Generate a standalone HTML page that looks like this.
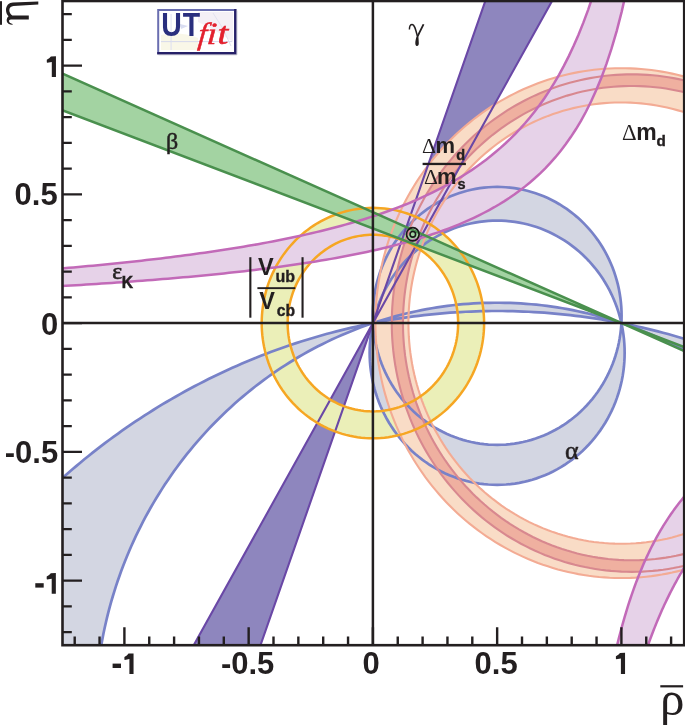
<!DOCTYPE html>
<html><head><meta charset="utf-8"><style>
html,body{margin:0;padding:0;background:#fff;}
body{width:685px;height:725px;overflow:hidden;position:relative;font-family:"Liberation Sans",sans-serif;}
svg{position:absolute;left:0;top:0;will-change:transform;}
</style></head><body>
<svg width="685" height="725" viewBox="0 0 685 725">
<rect width="685" height="725" fill="#fff"/>
<defs><clipPath id="pc"><rect x="62.50" y="1.00" width="621.70" height="644.20"/></clipPath></defs>
<g clip-path="url(#pc)">
<path d="M372.90,323.10 L498.72,-37.40 L573.42,-37.40ZM372.90,323.10 L247.08,683.60 L172.38,683.60Z" fill="#8e86be"/>
<path d="M621.59,315.89 L621.52,311.39 L621.29,306.89 L620.91,302.41 L620.38,297.94 L619.70,293.50 L618.88,289.08 L617.90,284.69 L616.77,280.35 L615.50,276.04 L614.09,271.79 L612.53,267.58 L610.84,263.44 L609.00,259.36 L607.03,255.35 L604.92,251.41 L602.69,247.56 L600.32,243.78 L597.83,240.09 L595.21,236.50 L592.48,233.00 L589.63,229.60 L586.67,226.31 L583.60,223.13 L580.42,220.06 L577.14,217.11 L573.77,214.27 L570.30,211.57 L566.74,208.98 L563.10,206.53 L559.37,204.21 L555.57,202.03 L551.70,199.99 L547.77,198.09 L543.77,196.33 L539.71,194.72 L535.61,193.25 L531.45,191.93 L527.26,190.77 L523.02,189.76 L518.76,188.90 L514.47,188.19 L510.16,187.64 L505.83,187.25 L501.49,187.02 L497.15,186.94 L492.81,187.02 L488.47,187.25 L484.14,187.64 L479.83,188.19 L475.54,188.90 L471.28,189.76 L467.04,190.77 L462.85,191.93 L458.69,193.25 L454.59,194.72 L450.53,196.33 L446.53,198.09 L442.60,199.99 L438.73,202.03 L434.93,204.21 L431.20,206.53 L427.56,208.98 L424.00,211.57 L420.53,214.27 L417.16,217.11 L413.88,220.06 L410.70,223.13 L407.63,226.31 L404.67,229.60 L401.82,233.00 L399.09,236.50 L396.47,240.09 L393.98,243.78 L391.61,247.56 L389.38,251.41 L387.27,255.35 L385.30,259.36 L383.46,263.44 L381.77,267.58 L380.21,271.79 L378.80,276.04 L377.53,280.35 L376.40,284.69 L375.42,289.08 L374.60,293.50 L373.92,297.94 L373.39,302.41 L373.01,306.89 L372.78,311.39 L372.71,315.89 L372.78,320.39 L373.01,324.89 L373.39,329.37 L373.92,333.84 L374.60,338.28 L375.42,342.70 L376.40,347.09 L377.53,351.43 L378.80,355.74 L380.21,359.99 L381.77,364.20 L383.46,368.34 L385.30,372.42 L387.27,376.43 L389.38,380.37 L391.61,384.22 L393.98,388.00 L396.47,391.69 L399.09,395.28 L401.82,398.78 L404.67,402.18 L407.63,405.47 L410.70,408.65 L413.88,411.72 L417.16,414.67 L420.53,417.51 L424.00,420.21 L427.56,422.80 L431.20,425.25 L434.93,427.57 L438.73,429.75 L442.60,431.79 L446.53,433.69 L450.53,435.45 L454.59,437.06 L458.69,438.53 L462.85,439.85 L467.04,441.01 L471.28,442.02 L475.54,442.88 L479.83,443.59 L484.14,444.14 L488.47,444.53 L492.81,444.76 L497.15,444.84 L501.49,444.76 L505.83,444.53 L510.16,444.14 L514.47,443.59 L518.76,442.88 L523.02,442.02 L527.26,441.01 L531.45,439.85 L535.61,438.53 L539.71,437.06 L543.77,435.45 L547.77,433.69 L551.70,431.79 L555.57,429.75 L559.37,427.57 L563.10,425.25 L566.74,422.80 L570.30,420.21 L573.77,417.51 L577.14,414.67 L580.42,411.72 L583.60,408.65 L586.67,405.47 L589.63,402.18 L592.48,398.78 L595.21,395.28 L597.83,391.69 L600.32,388.00 L602.69,384.22 L604.92,380.37 L607.03,376.43 L609.00,372.42 L610.84,368.34 L612.53,364.20 L614.09,359.99 L615.50,355.74 L616.77,351.43 L617.90,347.09 L618.88,342.70 L619.70,338.28 L620.38,333.84 L620.91,329.37 L621.29,324.89 L621.52,320.39ZM624.64,352.71 L624.57,348.10 L624.33,343.50 L623.95,338.90 L623.40,334.33 L622.71,329.77 L621.86,325.24 L620.86,320.75 L619.71,316.30 L618.40,311.89 L616.96,307.53 L615.36,303.22 L613.62,298.98 L611.74,294.80 L609.72,290.69 L607.56,286.66 L605.27,282.70 L602.85,278.84 L600.29,275.06 L597.62,271.38 L594.82,267.79 L591.90,264.31 L588.86,260.94 L585.71,257.68 L582.46,254.53 L579.10,251.51 L575.64,248.61 L572.09,245.83 L568.44,243.19 L564.71,240.68 L560.90,238.30 L557.00,236.06 L553.04,233.97 L549.01,232.02 L544.91,230.22 L540.76,228.57 L536.55,227.07 L532.29,225.72 L527.99,224.53 L523.66,223.49 L519.29,222.61 L514.89,221.89 L510.48,221.32 L506.04,220.92 L501.60,220.68 L497.15,220.60 L492.70,220.68 L488.26,220.92 L483.82,221.32 L479.41,221.89 L475.01,222.61 L470.64,223.49 L466.31,224.53 L462.01,225.72 L457.75,227.07 L453.54,228.57 L449.39,230.22 L445.29,232.02 L441.26,233.97 L437.30,236.06 L433.40,238.30 L429.59,240.68 L425.86,243.19 L422.21,245.83 L418.66,248.61 L415.20,251.51 L411.84,254.53 L408.59,257.68 L405.44,260.94 L402.40,264.31 L399.48,267.79 L396.68,271.38 L394.01,275.06 L391.45,278.84 L389.03,282.70 L386.74,286.66 L384.58,290.69 L382.56,294.80 L380.68,298.98 L378.94,303.22 L377.34,307.53 L375.90,311.89 L374.59,316.30 L373.44,320.75 L372.44,325.24 L371.59,329.77 L370.90,334.33 L370.35,338.90 L369.97,343.50 L369.73,348.10 L369.66,352.71 L369.73,357.32 L369.97,361.93 L370.35,366.52 L370.90,371.10 L371.59,375.65 L372.44,380.18 L373.44,384.67 L374.59,389.13 L375.90,393.54 L377.34,397.90 L378.94,402.20 L380.68,406.45 L382.56,410.63 L384.58,414.74 L386.74,418.77 L389.03,422.72 L391.45,426.59 L394.01,430.37 L396.68,434.05 L399.48,437.63 L402.40,441.11 L405.44,444.48 L408.59,447.75 L411.84,450.89 L415.20,453.92 L418.66,456.82 L422.21,459.59 L425.86,462.24 L429.59,464.75 L433.40,467.12 L437.30,469.36 L441.26,471.45 L445.29,473.40 L449.39,475.20 L453.54,476.86 L457.75,478.36 L462.01,479.71 L466.31,480.90 L470.64,481.94 L475.01,482.82 L479.41,483.54 L483.82,484.10 L488.26,484.50 L492.70,484.74 L497.15,484.82 L501.60,484.74 L506.04,484.50 L510.48,484.10 L514.89,483.54 L519.29,482.82 L523.66,481.94 L527.99,480.90 L532.29,479.71 L536.55,478.36 L540.76,476.86 L544.91,475.20 L549.01,473.40 L553.04,471.45 L557.00,469.36 L560.90,467.12 L564.71,464.75 L568.44,462.24 L572.09,459.59 L575.64,456.82 L579.10,453.92 L582.46,450.89 L585.71,447.75 L588.86,444.48 L591.90,441.11 L594.82,437.63 L597.62,434.05 L600.29,430.37 L602.85,426.59 L605.27,422.72 L607.56,418.77 L609.72,414.74 L611.74,410.63 L613.62,406.45 L615.36,402.20 L616.96,397.90 L618.40,393.54 L619.71,389.13 L620.86,384.67 L621.86,380.18 L622.71,375.65 L623.40,371.10 L623.95,366.52 L624.33,361.93 L624.57,357.32ZM899.51,719.65 L899.47,714.22 L899.37,708.78 L899.20,703.35 L898.96,697.92 L898.65,692.49 L898.28,687.07 L897.83,681.66 L897.32,676.25 L896.74,670.85 L896.09,665.45 L895.38,660.07 L894.59,654.70 L893.74,649.33 L892.82,643.98 L891.84,638.64 L890.79,633.32 L889.67,628.01 L888.48,622.72 L887.23,617.44 L885.91,612.18 L884.52,606.94 L883.07,601.71 L881.56,596.51 L879.97,591.33 L878.33,586.17 L876.62,581.03 L874.84,575.92 L873.00,570.83 L871.10,565.76 L869.13,560.73 L867.10,555.72 L865.00,550.73 L862.85,545.78 L860.63,540.85 L858.35,535.96 L856.01,531.10 L853.61,526.26 L851.14,521.47 L848.62,516.70 L846.04,511.97 L843.39,507.28 L840.69,502.62 L837.93,498.00 L835.12,493.41 L832.24,488.87 L829.31,484.36 L826.32,479.89 L823.28,475.47 L820.18,471.08 L817.02,466.74 L813.82,462.44 L810.55,458.19 L807.24,453.97 L803.87,449.81 L800.45,445.69 L796.98,441.61 L793.45,437.59 L789.88,433.61 L786.26,429.68 L782.58,425.80 L778.86,421.97 L775.09,418.19 L771.28,414.46 L767.42,410.78 L763.51,407.16 L759.55,403.59 L755.56,400.07 L751.51,396.61 L747.43,393.20 L743.30,389.85 L739.13,386.55 L734.92,383.31 L730.67,380.13 L726.38,377.00 L722.05,373.93 L717.68,370.93 L713.27,367.98 L708.83,365.09 L704.35,362.26 L699.84,359.49 L695.29,356.78 L690.71,354.14 L686.10,351.55 L681.45,349.03 L676.77,346.57 L672.06,344.18 L667.32,341.85 L662.56,339.58 L657.76,337.38 L652.94,335.24 L648.09,333.17 L643.22,331.17 L638.32,329.23 L633.39,327.35 L628.45,325.55 L623.48,323.81 L618.49,322.13 L613.48,320.53 L608.45,318.99 L603.40,317.52 L598.33,316.12 L593.24,314.79 L588.14,313.52 L583.03,312.33 L577.89,311.20 L572.75,310.15 L567.59,309.16 L562.42,308.25 L557.24,307.40 L552.05,306.62 L546.85,305.92 L541.64,305.28 L536.42,304.71 L531.20,304.22 L525.97,303.79 L520.74,303.44 L515.50,303.16 L510.26,302.94 L505.02,302.80 L499.77,302.73 L494.53,302.73 L489.28,302.80 L484.04,302.94 L478.80,303.16 L473.56,303.44 L468.33,303.79 L463.10,304.22 L457.88,304.71 L452.66,305.28 L447.45,305.92 L442.25,306.62 L437.06,307.40 L431.88,308.25 L426.71,309.16 L421.55,310.15 L416.41,311.20 L411.27,312.33 L406.16,313.52 L401.06,314.79 L395.97,316.12 L390.90,317.52 L385.85,318.99 L380.82,320.53 L375.81,322.13 L370.82,323.81 L365.85,325.55 L360.91,327.35 L355.98,329.23 L351.08,331.17 L346.21,333.17 L341.36,335.24 L336.54,337.38 L331.74,339.58 L326.98,341.85 L322.24,344.18 L317.53,346.57 L312.85,349.03 L308.20,351.55 L303.59,354.14 L299.01,356.78 L294.46,359.49 L289.95,362.26 L285.47,365.09 L281.03,367.98 L276.62,370.93 L272.25,373.93 L267.92,377.00 L263.63,380.13 L259.38,383.31 L255.17,386.55 L251.00,389.85 L246.87,393.20 L242.79,396.61 L238.74,400.07 L234.75,403.59 L230.79,407.16 L226.88,410.78 L223.02,414.46 L219.21,418.19 L215.44,421.97 L211.72,425.80 L208.04,429.68 L204.42,433.61 L200.85,437.59 L197.32,441.61 L193.85,445.69 L190.43,449.81 L187.06,453.97 L183.75,458.19 L180.48,462.44 L177.28,466.74 L174.12,471.08 L171.02,475.47 L167.98,479.89 L164.99,484.36 L162.06,488.87 L159.18,493.41 L156.37,498.00 L153.61,502.62 L150.91,507.28 L148.26,511.97 L145.68,516.70 L143.16,521.47 L140.69,526.26 L138.29,531.10 L135.95,535.96 L133.67,540.85 L131.45,545.78 L129.30,550.73 L127.20,555.72 L125.17,560.73 L123.20,565.76 L121.30,570.83 L119.46,575.92 L117.68,581.03 L115.97,586.17 L114.33,591.33 L112.74,596.51 L111.23,601.71 L109.78,606.94 L108.39,612.18 L107.07,617.44 L105.82,622.72 L104.63,628.01 L103.51,633.32 L102.46,638.64 L101.48,643.98 L100.56,649.33 L99.71,654.70 L98.92,660.07 L98.21,665.45 L97.56,670.85 L96.98,676.25 L96.47,681.66 L96.02,687.07 L95.65,692.49 L95.34,697.92 L95.10,703.35 L94.93,708.78 L94.83,714.22 L94.79,719.65 L94.83,725.08 L94.93,730.52 L95.10,735.95 L95.34,741.38 L95.65,746.81 L96.02,752.23 L96.47,757.64 L96.98,763.05 L97.56,768.45 L98.21,773.85 L98.92,779.23 L99.71,784.60 L100.56,789.97 L101.48,795.32 L102.46,800.66 L103.51,805.98 L104.63,811.29 L105.82,816.58 L107.07,821.86 L108.39,827.12 L109.78,832.36 L111.23,837.59 L112.74,842.79 L114.33,847.97 L115.97,853.13 L117.68,858.27 L119.46,863.38 L121.30,868.47 L123.20,873.54 L125.17,878.57 L127.20,883.58 L129.30,888.57 L131.45,893.52 L133.67,898.45 L135.95,903.34 L138.29,908.20 L140.69,913.04 L143.16,917.83 L145.68,922.60 L148.26,927.33 L150.91,932.02 L153.61,936.68 L156.37,941.30 L159.18,945.89 L162.06,950.43 L164.99,954.94 L167.98,959.41 L171.02,963.83 L174.12,968.22 L177.28,972.56 L180.48,976.86 L183.75,981.11 L187.06,985.33 L190.43,989.49 L193.85,993.61 L197.32,997.69 L200.85,1001.71 L204.42,1005.69 L208.04,1009.62 L211.72,1013.50 L215.44,1017.33 L219.21,1021.11 L223.02,1024.84 L226.88,1028.52 L230.79,1032.14 L234.75,1035.71 L238.74,1039.23 L242.79,1042.69 L246.87,1046.10 L251.00,1049.45 L255.17,1052.75 L259.38,1055.99 L263.63,1059.17 L267.92,1062.30 L272.25,1065.37 L276.62,1068.37 L281.03,1071.32 L285.47,1074.21 L289.95,1077.04 L294.46,1079.81 L299.01,1082.52 L303.59,1085.16 L308.20,1087.75 L312.85,1090.27 L317.53,1092.73 L322.24,1095.12 L326.98,1097.45 L331.74,1099.72 L336.54,1101.92 L341.36,1104.06 L346.21,1106.13 L351.08,1108.13 L355.98,1110.07 L360.91,1111.95 L365.85,1113.75 L370.82,1115.49 L375.81,1117.17 L380.82,1118.77 L385.85,1120.31 L390.90,1121.78 L395.97,1123.18 L401.06,1124.51 L406.16,1125.78 L411.27,1126.97 L416.41,1128.10 L421.55,1129.15 L426.71,1130.14 L431.88,1131.05 L437.06,1131.90 L442.25,1132.68 L447.45,1133.38 L452.66,1134.02 L457.88,1134.59 L463.10,1135.08 L468.33,1135.51 L473.56,1135.86 L478.80,1136.14 L484.04,1136.36 L489.28,1136.50 L494.53,1136.57 L499.77,1136.57 L505.02,1136.50 L510.26,1136.36 L515.50,1136.14 L520.74,1135.86 L525.97,1135.51 L531.20,1135.08 L536.42,1134.59 L541.64,1134.02 L546.85,1133.38 L552.05,1132.68 L557.24,1131.90 L562.42,1131.05 L567.59,1130.14 L572.75,1129.15 L577.89,1128.10 L583.03,1126.97 L588.14,1125.78 L593.24,1124.51 L598.33,1123.18 L603.40,1121.78 L608.45,1120.31 L613.48,1118.77 L618.49,1117.17 L623.48,1115.49 L628.45,1113.75 L633.39,1111.95 L638.32,1110.07 L643.22,1108.13 L648.09,1106.13 L652.94,1104.06 L657.76,1101.92 L662.56,1099.72 L667.32,1097.45 L672.06,1095.12 L676.77,1092.73 L681.45,1090.27 L686.10,1087.75 L690.71,1085.16 L695.29,1082.52 L699.84,1079.81 L704.35,1077.04 L708.83,1074.21 L713.27,1071.32 L717.68,1068.37 L722.05,1065.37 L726.38,1062.30 L730.67,1059.17 L734.92,1055.99 L739.13,1052.75 L743.30,1049.45 L747.43,1046.10 L751.51,1042.69 L755.56,1039.23 L759.55,1035.71 L763.51,1032.14 L767.42,1028.52 L771.28,1024.84 L775.09,1021.11 L778.86,1017.33 L782.58,1013.50 L786.26,1009.62 L789.88,1005.69 L793.45,1001.71 L796.98,997.69 L800.45,993.61 L803.87,989.49 L807.24,985.33 L810.55,981.11 L813.82,976.86 L817.02,972.56 L820.18,968.22 L823.28,963.83 L826.32,959.41 L829.31,954.94 L832.24,950.43 L835.12,945.89 L837.93,941.30 L840.69,936.68 L843.39,932.02 L846.04,927.33 L848.62,922.60 L851.14,917.83 L853.61,913.04 L856.01,908.20 L858.35,903.34 L860.63,898.45 L862.85,893.52 L865.00,888.57 L867.10,883.58 L869.13,878.57 L871.10,873.54 L873.00,868.47 L874.84,863.38 L876.62,858.27 L878.33,853.13 L879.97,847.97 L881.56,842.79 L883.07,837.59 L884.52,832.36 L885.91,827.12 L887.23,821.86 L888.48,816.58 L889.67,811.29 L890.79,805.98 L891.84,800.66 L892.82,795.32 L893.74,789.97 L894.59,784.60 L895.38,779.23 L896.09,773.85 L896.74,768.45 L897.32,763.05 L897.83,757.64 L898.28,752.23 L898.65,746.81 L898.96,741.38 L899.20,735.95 L899.37,730.52 L899.47,725.08ZM1163.88,1001.87 L1163.86,996.44 L1163.79,991.02 L1163.69,985.59 L1163.55,980.17 L1163.36,974.75 L1163.14,969.33 L1162.87,963.91 L1162.56,958.49 L1162.21,953.08 L1161.82,947.66 L1161.39,942.26 L1160.92,936.85 L1160.40,931.45 L1159.85,926.06 L1159.25,920.67 L1158.62,915.28 L1157.94,909.90 L1157.22,904.53 L1156.47,899.16 L1155.67,893.79 L1154.83,888.44 L1153.95,883.09 L1153.03,877.75 L1152.07,872.41 L1151.06,867.09 L1150.02,861.77 L1148.94,856.46 L1147.82,851.16 L1146.66,845.87 L1145.45,840.59 L1144.21,835.32 L1142.93,830.06 L1141.61,824.81 L1140.25,819.57 L1138.84,814.34 L1137.40,809.12 L1135.92,803.92 L1134.40,798.73 L1132.84,793.55 L1131.24,788.38 L1129.61,783.22 L1127.93,778.08 L1126.21,772.96 L1124.46,767.85 L1122.67,762.75 L1120.83,757.66 L1118.96,752.60 L1117.06,747.54 L1115.11,742.51 L1113.12,737.48 L1111.10,732.48 L1109.04,727.49 L1106.94,722.52 L1104.81,717.57 L1102.63,712.63 L1100.42,707.71 L1098.17,702.81 L1095.89,697.93 L1093.57,693.06 L1091.21,688.22 L1088.81,683.40 L1086.38,678.59 L1083.91,673.80 L1081.41,669.04 L1078.87,664.29 L1076.29,659.57 L1073.68,654.87 L1071.03,650.19 L1068.35,645.53 L1065.63,640.89 L1062.87,636.27 L1060.09,631.68 L1057.26,627.11 L1054.40,622.57 L1051.51,618.04 L1048.59,613.54 L1045.63,609.07 L1042.63,604.61 L1039.60,600.19 L1036.54,595.79 L1033.45,591.41 L1030.32,587.06 L1027.16,582.73 L1023.97,578.43 L1020.74,574.15 L1017.48,569.91 L1014.19,565.69 L1010.87,561.49 L1007.52,557.32 L1004.13,553.18 L1000.72,549.07 L997.27,544.99 L993.79,540.93 L990.28,536.90 L986.74,532.91 L983.17,528.93 L979.57,524.99 L975.94,521.08 L972.28,517.20 L968.60,513.35 L964.88,509.53 L961.13,505.74 L957.36,501.98 L953.56,498.25 L949.72,494.55 L945.86,490.88 L941.98,487.24 L938.06,483.64 L934.12,480.07 L930.15,476.53 L926.16,473.02 L922.14,469.54 L918.09,466.10 L914.02,462.69 L909.92,459.32 L905.79,455.97 L901.64,452.66 L897.47,449.39 L893.27,446.15 L889.04,442.94 L884.79,439.77 L880.52,436.63 L876.22,433.53 L871.91,430.46 L867.56,427.43 L863.20,424.43 L858.81,421.47 L854.40,418.55 L849.97,415.66 L845.51,412.80 L841.04,409.99 L836.54,407.21 L832.02,404.46 L827.49,401.76 L822.93,399.09 L818.35,396.45 L813.75,393.86 L809.13,391.30 L804.49,388.78 L799.84,386.30 L795.16,383.85 L790.47,381.45 L785.76,379.08 L781.03,376.75 L776.28,374.46 L771.52,372.21 L766.74,369.99 L761.94,367.82 L757.12,365.68 L752.29,363.59 L747.45,361.53 L742.59,359.51 L737.71,357.54 L732.82,355.60 L727.92,353.70 L723.00,351.84 L718.06,350.02 L713.11,348.25 L708.15,346.51 L703.18,344.81 L698.19,343.15 L693.19,341.54 L688.18,339.96 L683.16,338.43 L678.13,336.94 L673.08,335.48 L668.02,334.07 L662.96,332.70 L657.88,331.37 L652.79,330.09 L647.70,328.84 L642.59,327.64 L637.48,326.47 L632.35,325.35 L627.22,324.27 L622.08,323.23 L616.93,322.24 L611.78,321.28 L606.62,320.37 L601.45,319.50 L596.27,318.68 L591.09,317.89 L585.91,317.15 L580.71,316.44 L575.52,315.79 L570.31,315.17 L565.11,314.60 L559.89,314.06 L554.68,313.57 L549.46,313.13 L544.24,312.72 L539.01,312.36 L533.79,312.04 L528.56,311.76 L523.33,311.53 L518.09,311.34 L512.86,311.19 L507.62,311.08 L502.39,311.02 L497.15,311.00 L491.91,311.02 L486.68,311.08 L481.44,311.19 L476.21,311.34 L470.97,311.53 L465.74,311.76 L460.51,312.04 L455.29,312.36 L450.06,312.72 L444.84,313.13 L439.62,313.57 L434.41,314.06 L429.19,314.60 L423.99,315.17 L418.78,315.79 L413.59,316.44 L408.39,317.15 L403.21,317.89 L398.03,318.68 L392.85,319.50 L387.68,320.37 L382.52,321.28 L377.37,322.24 L372.22,323.23 L367.08,324.27 L361.95,325.35 L356.82,326.47 L351.71,327.64 L346.60,328.84 L341.51,330.09 L336.42,331.37 L331.34,332.70 L326.28,334.07 L321.22,335.48 L316.17,336.94 L311.14,338.43 L306.12,339.96 L301.11,341.54 L296.11,343.15 L291.12,344.81 L286.15,346.51 L281.19,348.25 L276.24,350.02 L271.30,351.84 L266.38,353.70 L261.48,355.60 L256.59,357.54 L251.71,359.51 L246.85,361.53 L242.01,363.59 L237.18,365.68 L232.36,367.82 L227.56,369.99 L222.78,372.21 L218.02,374.46 L213.27,376.75 L208.54,379.08 L203.83,381.45 L199.14,383.85 L194.46,386.30 L189.81,388.78 L185.17,391.30 L180.55,393.86 L175.95,396.45 L171.37,399.09 L166.81,401.76 L162.28,404.46 L157.76,407.21 L153.26,409.99 L148.79,412.80 L144.33,415.66 L139.90,418.55 L135.49,421.47 L131.10,424.43 L126.74,427.43 L122.39,430.46 L118.08,433.53 L113.78,436.63 L109.51,439.77 L105.26,442.94 L101.03,446.15 L96.83,449.39 L92.66,452.66 L88.51,455.97 L84.38,459.32 L80.28,462.69 L76.21,466.10 L72.16,469.54 L68.14,473.02 L64.15,476.53 L60.18,480.07 L56.24,483.64 L52.32,487.24 L48.44,490.88 L44.58,494.55 L40.74,498.25 L36.94,501.98 L33.17,505.74 L29.42,509.53 L25.70,513.35 L22.02,517.20 L18.36,521.08 L14.73,524.99 L11.13,528.93 L7.56,532.91 L4.02,536.90 L0.51,540.93 L-2.97,544.99 L-6.42,549.07 L-9.83,553.18 L-13.22,557.32 L-16.57,561.49 L-19.89,565.69 L-23.18,569.91 L-26.44,574.15 L-29.67,578.43 L-32.86,582.73 L-36.02,587.06 L-39.15,591.41 L-42.24,595.79 L-45.30,600.19 L-48.33,604.61 L-51.33,609.07 L-54.29,613.54 L-57.21,618.04 L-60.10,622.57 L-62.96,627.11 L-65.79,631.68 L-68.57,636.27 L-71.33,640.89 L-74.05,645.53 L-76.73,650.19 L-79.38,654.87 L-81.99,659.57 L-84.57,664.29 L-87.11,669.04 L-89.61,673.80 L-92.08,678.59 L-94.51,683.40 L-96.91,688.22 L-99.27,693.06 L-101.59,697.93 L-103.87,702.81 L-106.12,707.71 L-108.33,712.63 L-110.51,717.57 L-112.64,722.52 L-114.74,727.49 L-116.80,732.48 L-118.82,737.48 L-120.81,742.51 L-122.76,747.54 L-124.66,752.60 L-126.53,757.66 L-128.37,762.75 L-130.16,767.85 L-131.91,772.96 L-133.63,778.08 L-135.31,783.22 L-136.94,788.38 L-138.54,793.55 L-140.10,798.73 L-141.62,803.92 L-143.10,809.12 L-144.54,814.34 L-145.95,819.57 L-147.31,824.81 L-148.63,830.06 L-149.91,835.32 L-151.15,840.59 L-152.36,845.87 L-153.52,851.16 L-154.64,856.46 L-155.72,861.77 L-156.76,867.09 L-157.77,872.41 L-158.73,877.75 L-159.65,883.09 L-160.53,888.44 L-161.37,893.79 L-162.17,899.16 L-162.92,904.53 L-163.64,909.90 L-164.32,915.28 L-164.95,920.67 L-165.55,926.06 L-166.10,931.45 L-166.62,936.85 L-167.09,942.26 L-167.52,947.66 L-167.91,953.08 L-168.26,958.49 L-168.57,963.91 L-168.84,969.33 L-169.06,974.75 L-169.25,980.17 L-169.39,985.59 L-169.49,991.02 L-169.56,996.44 L-169.58,1001.87 L-169.56,1007.30 L-169.49,1012.72 L-169.39,1018.15 L-169.25,1023.57 L-169.06,1028.99 L-168.84,1034.41 L-168.57,1039.83 L-168.26,1045.25 L-167.91,1050.66 L-167.52,1056.08 L-167.09,1061.48 L-166.62,1066.89 L-166.10,1072.29 L-165.55,1077.68 L-164.95,1083.07 L-164.32,1088.46 L-163.64,1093.84 L-162.92,1099.21 L-162.17,1104.58 L-161.37,1109.95 L-160.53,1115.30 L-159.65,1120.65 L-158.73,1125.99 L-157.77,1131.33 L-156.76,1136.65 L-155.72,1141.97 L-154.64,1147.28 L-153.52,1152.58 L-152.36,1157.87 L-151.15,1163.15 L-149.91,1168.42 L-148.63,1173.68 L-147.31,1178.93 L-145.95,1184.17 L-144.54,1189.40 L-143.10,1194.62 L-141.62,1199.82 L-140.10,1205.01 L-138.54,1210.19 L-136.94,1215.36 L-135.31,1220.52 L-133.63,1225.66 L-131.91,1230.78 L-130.16,1235.89 L-128.37,1240.99 L-126.53,1246.08 L-124.66,1251.14 L-122.76,1256.20 L-120.81,1261.23 L-118.82,1266.26 L-116.80,1271.26 L-114.74,1276.25 L-112.64,1281.22 L-110.51,1286.17 L-108.33,1291.11 L-106.12,1296.03 L-103.87,1300.93 L-101.59,1305.81 L-99.27,1310.68 L-96.91,1315.52 L-94.51,1320.34 L-92.08,1325.15 L-89.61,1329.94 L-87.11,1334.70 L-84.57,1339.45 L-81.99,1344.17 L-79.38,1348.87 L-76.73,1353.55 L-74.05,1358.21 L-71.33,1362.85 L-68.57,1367.47 L-65.79,1372.06 L-62.96,1376.63 L-60.10,1381.17 L-57.21,1385.70 L-54.29,1390.20 L-51.33,1394.67 L-48.33,1399.13 L-45.30,1403.55 L-42.24,1407.95 L-39.15,1412.33 L-36.02,1416.68 L-32.86,1421.01 L-29.67,1425.31 L-26.44,1429.59 L-23.18,1433.83 L-19.89,1438.05 L-16.57,1442.25 L-13.22,1446.42 L-9.83,1450.56 L-6.42,1454.67 L-2.97,1458.75 L0.51,1462.81 L4.02,1466.84 L7.56,1470.83 L11.13,1474.81 L14.73,1478.75 L18.36,1482.66 L22.02,1486.54 L25.70,1490.39 L29.42,1494.21 L33.17,1498.00 L36.94,1501.76 L40.74,1505.49 L44.58,1509.19 L48.44,1512.86 L52.32,1516.50 L56.24,1520.10 L60.18,1523.67 L64.15,1527.21 L68.14,1530.72 L72.16,1534.20 L76.21,1537.64 L80.28,1541.05 L84.38,1544.42 L88.51,1547.77 L92.66,1551.08 L96.83,1554.35 L101.03,1557.59 L105.26,1560.80 L109.51,1563.97 L113.78,1567.11 L118.08,1570.21 L122.39,1573.28 L126.74,1576.31 L131.10,1579.31 L135.49,1582.27 L139.90,1585.19 L144.33,1588.08 L148.79,1590.94 L153.26,1593.75 L157.76,1596.53 L162.28,1599.28 L166.81,1601.98 L171.37,1604.65 L175.95,1607.29 L180.55,1609.88 L185.17,1612.44 L189.81,1614.96 L194.46,1617.44 L199.14,1619.89 L203.83,1622.29 L208.54,1624.66 L213.27,1626.99 L218.02,1629.28 L222.78,1631.53 L227.56,1633.75 L232.36,1635.92 L237.18,1638.06 L242.01,1640.15 L246.85,1642.21 L251.71,1644.23 L256.59,1646.20 L261.48,1648.14 L266.38,1650.04 L271.30,1651.90 L276.24,1653.72 L281.19,1655.49 L286.15,1657.23 L291.12,1658.93 L296.11,1660.59 L301.11,1662.20 L306.12,1663.78 L311.14,1665.31 L316.17,1666.80 L321.22,1668.26 L326.28,1669.67 L331.34,1671.04 L336.42,1672.37 L341.51,1673.65 L346.60,1674.90 L351.71,1676.10 L356.82,1677.27 L361.95,1678.39 L367.08,1679.47 L372.22,1680.51 L377.37,1681.50 L382.52,1682.46 L387.68,1683.37 L392.85,1684.24 L398.03,1685.06 L403.21,1685.85 L408.39,1686.59 L413.59,1687.30 L418.78,1687.95 L423.99,1688.57 L429.19,1689.14 L434.41,1689.68 L439.62,1690.17 L444.84,1690.61 L450.06,1691.02 L455.29,1691.38 L460.51,1691.70 L465.74,1691.98 L470.97,1692.21 L476.21,1692.40 L481.44,1692.55 L486.68,1692.66 L491.91,1692.72 L497.15,1692.74 L502.39,1692.72 L507.62,1692.66 L512.86,1692.55 L518.09,1692.40 L523.33,1692.21 L528.56,1691.98 L533.79,1691.70 L539.01,1691.38 L544.24,1691.02 L549.46,1690.61 L554.68,1690.17 L559.89,1689.68 L565.11,1689.14 L570.31,1688.57 L575.52,1687.95 L580.71,1687.30 L585.91,1686.59 L591.09,1685.85 L596.27,1685.06 L601.45,1684.24 L606.62,1683.37 L611.78,1682.46 L616.93,1681.50 L622.08,1680.51 L627.22,1679.47 L632.35,1678.39 L637.48,1677.27 L642.59,1676.10 L647.70,1674.90 L652.79,1673.65 L657.88,1672.37 L662.96,1671.04 L668.02,1669.67 L673.08,1668.26 L678.13,1666.80 L683.16,1665.31 L688.18,1663.78 L693.19,1662.20 L698.19,1660.59 L703.18,1658.93 L708.15,1657.23 L713.11,1655.49 L718.06,1653.72 L723.00,1651.90 L727.92,1650.04 L732.82,1648.14 L737.71,1646.20 L742.59,1644.23 L747.45,1642.21 L752.29,1640.15 L757.12,1638.06 L761.94,1635.92 L766.74,1633.75 L771.52,1631.53 L776.28,1629.28 L781.03,1626.99 L785.76,1624.66 L790.47,1622.29 L795.16,1619.89 L799.84,1617.44 L804.49,1614.96 L809.13,1612.44 L813.75,1609.88 L818.35,1607.29 L822.93,1604.65 L827.49,1601.98 L832.02,1599.28 L836.54,1596.53 L841.04,1593.75 L845.51,1590.94 L849.97,1588.08 L854.40,1585.19 L858.81,1582.27 L863.20,1579.31 L867.56,1576.31 L871.91,1573.28 L876.22,1570.21 L880.52,1567.11 L884.79,1563.97 L889.04,1560.80 L893.27,1557.59 L897.47,1554.35 L901.64,1551.08 L905.79,1547.77 L909.92,1544.42 L914.02,1541.05 L918.09,1537.64 L922.14,1534.20 L926.16,1530.72 L930.15,1527.21 L934.12,1523.67 L938.06,1520.10 L941.98,1516.50 L945.86,1512.86 L949.72,1509.19 L953.56,1505.49 L957.36,1501.76 L961.13,1498.00 L964.88,1494.21 L968.60,1490.39 L972.28,1486.54 L975.94,1482.66 L979.57,1478.75 L983.17,1474.81 L986.74,1470.83 L990.28,1466.84 L993.79,1462.81 L997.27,1458.75 L1000.72,1454.67 L1004.13,1450.56 L1007.52,1446.42 L1010.87,1442.25 L1014.19,1438.05 L1017.48,1433.83 L1020.74,1429.59 L1023.97,1425.31 L1027.16,1421.01 L1030.32,1416.68 L1033.45,1412.33 L1036.54,1407.95 L1039.60,1403.55 L1042.63,1399.13 L1045.63,1394.67 L1048.59,1390.20 L1051.51,1385.70 L1054.40,1381.17 L1057.26,1376.63 L1060.09,1372.06 L1062.87,1367.47 L1065.63,1362.85 L1068.35,1358.21 L1071.03,1353.55 L1073.68,1348.87 L1076.29,1344.17 L1078.87,1339.45 L1081.41,1334.70 L1083.91,1329.94 L1086.38,1325.15 L1088.81,1320.34 L1091.21,1315.52 L1093.57,1310.68 L1095.89,1305.81 L1098.17,1300.93 L1100.42,1296.03 L1102.63,1291.11 L1104.81,1286.17 L1106.94,1281.22 L1109.04,1276.25 L1111.10,1271.26 L1113.12,1266.26 L1115.11,1261.23 L1117.06,1256.20 L1118.96,1251.14 L1120.83,1246.08 L1122.67,1240.99 L1124.46,1235.89 L1126.21,1230.78 L1127.93,1225.66 L1129.61,1220.52 L1131.24,1215.36 L1132.84,1210.19 L1134.40,1205.01 L1135.92,1199.82 L1137.40,1194.62 L1138.84,1189.40 L1140.25,1184.17 L1141.61,1178.93 L1142.93,1173.68 L1144.21,1168.42 L1145.45,1163.15 L1146.66,1157.87 L1147.82,1152.58 L1148.94,1147.28 L1150.02,1141.97 L1151.06,1136.65 L1152.07,1131.33 L1153.03,1125.99 L1153.95,1120.65 L1154.83,1115.30 L1155.67,1109.95 L1156.47,1104.58 L1157.22,1099.21 L1157.94,1093.84 L1158.62,1088.46 L1159.25,1083.07 L1159.85,1077.68 L1160.40,1072.29 L1160.92,1066.89 L1161.39,1061.48 L1161.82,1056.08 L1162.21,1050.66 L1162.56,1045.25 L1162.87,1039.83 L1163.14,1034.41 L1163.36,1028.99 L1163.55,1023.57 L1163.69,1018.15 L1163.79,1012.72 L1163.86,1007.30Z" fill="#d3d6e2" fill-rule="evenodd"/>
<path d="M458.14,323.10 L458.08,320.02 L457.93,316.94 L457.67,313.87 L457.31,310.81 L456.84,307.76 L456.27,304.74 L455.60,301.73 L454.83,298.76 L453.96,295.81 L453.00,292.89 L451.93,290.01 L450.77,287.18 L449.51,284.38 L448.16,281.64 L446.72,278.94 L445.18,276.30 L443.56,273.71 L441.86,271.19 L440.07,268.72 L438.19,266.33 L436.24,264.00 L434.21,261.75 L432.11,259.57 L429.93,257.46 L427.69,255.44 L425.38,253.50 L423.00,251.65 L420.56,249.88 L418.07,248.20 L415.52,246.61 L412.92,245.12 L410.26,243.72 L407.57,242.41 L404.83,241.21 L402.05,240.10 L399.24,239.10 L396.39,238.20 L393.52,237.40 L390.62,236.71 L387.70,236.12 L384.76,235.64 L381.81,235.26 L378.85,234.99 L375.87,234.83 L372.90,234.78 L369.93,234.83 L366.95,234.99 L363.99,235.26 L361.04,235.64 L358.10,236.12 L355.18,236.71 L352.28,237.40 L349.41,238.20 L346.56,239.10 L343.75,240.10 L340.97,241.21 L338.23,242.41 L335.54,243.72 L332.88,245.12 L330.28,246.61 L327.73,248.20 L325.24,249.88 L322.80,251.65 L320.42,253.50 L318.11,255.44 L315.87,257.46 L313.69,259.57 L311.59,261.75 L309.56,264.00 L307.61,266.33 L305.73,268.72 L303.94,271.19 L302.24,273.71 L300.62,276.30 L299.08,278.94 L297.64,281.64 L296.29,284.38 L295.03,287.18 L293.87,290.01 L292.80,292.89 L291.84,295.81 L290.97,298.76 L290.20,301.73 L289.53,304.74 L288.96,307.76 L288.49,310.81 L288.13,313.87 L287.87,316.94 L287.72,320.02 L287.66,323.10 L287.72,326.18 L287.87,329.26 L288.13,332.33 L288.49,335.39 L288.96,338.44 L289.53,341.46 L290.20,344.47 L290.97,347.44 L291.84,350.39 L292.80,353.31 L293.87,356.19 L295.03,359.02 L296.29,361.82 L297.64,364.56 L299.08,367.26 L300.62,369.90 L302.24,372.49 L303.94,375.01 L305.73,377.48 L307.61,379.87 L309.56,382.20 L311.59,384.45 L313.69,386.63 L315.87,388.74 L318.11,390.76 L320.42,392.70 L322.80,394.55 L325.24,396.32 L327.73,398.00 L330.28,399.59 L332.88,401.08 L335.54,402.48 L338.23,403.79 L340.97,404.99 L343.75,406.10 L346.56,407.10 L349.41,408.00 L352.28,408.80 L355.18,409.49 L358.10,410.08 L361.04,410.56 L363.99,410.94 L366.95,411.21 L369.93,411.37 L372.90,411.42 L375.87,411.37 L378.85,411.21 L381.81,410.94 L384.76,410.56 L387.70,410.08 L390.62,409.49 L393.52,408.80 L396.39,408.00 L399.24,407.10 L402.05,406.10 L404.83,404.99 L407.57,403.79 L410.26,402.48 L412.92,401.08 L415.52,399.59 L418.07,398.00 L420.56,396.32 L423.00,394.55 L425.38,392.70 L427.69,390.76 L429.93,388.74 L432.11,386.63 L434.21,384.45 L436.24,382.20 L438.19,379.87 L440.07,377.48 L441.86,375.01 L443.56,372.49 L445.18,369.90 L446.72,367.26 L448.16,364.56 L449.51,361.82 L450.77,359.02 L451.93,356.19 L453.00,353.31 L453.96,350.39 L454.83,347.44 L455.60,344.47 L456.27,341.46 L456.84,338.44 L457.31,335.39 L457.67,332.33 L457.93,329.26 L458.08,326.18ZM484.10,323.10 L484.04,319.08 L483.83,315.06 L483.49,311.06 L483.02,307.06 L482.41,303.09 L481.67,299.14 L480.80,295.22 L479.80,291.34 L478.66,287.49 L477.40,283.69 L476.01,279.93 L474.49,276.23 L472.85,272.59 L471.09,269.00 L469.21,265.48 L467.21,262.04 L465.09,258.66 L462.87,255.37 L460.53,252.16 L458.09,249.03 L455.54,246.00 L452.89,243.05 L450.15,240.21 L447.31,237.47 L444.38,234.83 L441.36,232.30 L438.26,229.88 L435.08,227.57 L431.83,225.38 L428.50,223.31 L425.11,221.36 L421.65,219.53 L418.13,217.83 L414.56,216.26 L410.93,214.82 L407.26,213.51 L403.55,212.33 L399.80,211.29 L396.02,210.39 L392.21,209.62 L388.38,208.99 L384.52,208.50 L380.66,208.15 L376.78,207.94 L372.90,207.87 L369.02,207.94 L365.14,208.15 L361.28,208.50 L357.42,208.99 L353.59,209.62 L349.78,210.39 L346.00,211.29 L342.25,212.33 L338.54,213.51 L334.87,214.82 L331.24,216.26 L327.67,217.83 L324.15,219.53 L320.69,221.36 L317.30,223.31 L313.97,225.38 L310.72,227.57 L307.54,229.88 L304.44,232.30 L301.42,234.83 L298.49,237.47 L295.65,240.21 L292.91,243.05 L290.26,246.00 L287.71,249.03 L285.27,252.16 L282.93,255.37 L280.71,258.66 L278.59,262.04 L276.59,265.48 L274.71,269.00 L272.95,272.59 L271.31,276.23 L269.79,279.93 L268.40,283.69 L267.14,287.49 L266.00,291.34 L265.00,295.22 L264.13,299.14 L263.39,303.09 L262.78,307.06 L262.31,311.06 L261.97,315.06 L261.76,319.08 L261.70,323.10 L261.76,327.12 L261.97,331.14 L262.31,335.14 L262.78,339.14 L263.39,343.11 L264.13,347.06 L265.00,350.98 L266.00,354.86 L267.14,358.71 L268.40,362.51 L269.79,366.27 L271.31,369.97 L272.95,373.61 L274.71,377.20 L276.59,380.72 L278.59,384.16 L280.71,387.54 L282.93,390.83 L285.27,394.04 L287.71,397.17 L290.26,400.20 L292.91,403.15 L295.65,405.99 L298.49,408.73 L301.42,411.37 L304.44,413.90 L307.54,416.32 L310.72,418.63 L313.97,420.82 L317.30,422.89 L320.69,424.84 L324.15,426.67 L327.67,428.37 L331.24,429.94 L334.87,431.38 L338.54,432.69 L342.25,433.87 L346.00,434.91 L349.78,435.81 L353.59,436.58 L357.42,437.21 L361.28,437.70 L365.14,438.05 L369.02,438.26 L372.90,438.33 L376.78,438.26 L380.66,438.05 L384.52,437.70 L388.38,437.21 L392.21,436.58 L396.02,435.81 L399.80,434.91 L403.55,433.87 L407.26,432.69 L410.93,431.38 L414.56,429.94 L418.13,428.37 L421.65,426.67 L425.11,424.84 L428.50,422.89 L431.83,420.82 L435.08,418.63 L438.26,416.32 L441.36,413.90 L444.38,411.37 L447.31,408.73 L450.15,405.99 L452.89,403.15 L455.54,400.20 L458.09,397.17 L460.53,394.04 L462.87,390.83 L465.09,387.54 L467.21,384.16 L469.21,380.72 L471.09,377.20 L472.85,373.61 L474.49,369.97 L476.01,366.27 L477.40,362.51 L478.66,358.71 L479.80,354.86 L480.80,350.98 L481.67,347.06 L482.41,343.11 L483.02,339.14 L483.49,335.14 L483.83,331.14 L484.04,327.12Z" fill="#ebefb8" fill-rule="evenodd"/>
<path d="M834.36,323.10 L834.30,317.66 L834.11,312.23 L833.78,306.80 L833.33,301.39 L832.75,295.98 L832.04,290.59 L831.20,285.23 L830.24,279.88 L829.15,274.56 L827.93,269.27 L826.59,264.02 L825.12,258.80 L823.53,253.62 L821.82,248.48 L819.98,243.38 L818.03,238.34 L815.95,233.34 L813.76,228.40 L811.45,223.52 L809.02,218.70 L806.49,213.94 L803.83,209.25 L801.07,204.63 L798.20,200.07 L795.22,195.60 L792.14,191.20 L788.95,186.88 L785.66,182.64 L782.27,178.49 L778.78,174.43 L775.20,170.46 L771.52,166.58 L767.76,162.79 L763.90,159.10 L759.96,155.52 L755.93,152.03 L751.82,148.65 L747.64,145.37 L743.37,142.20 L739.03,139.14 L734.62,136.20 L730.15,133.36 L725.60,130.64 L720.99,128.04 L716.33,125.56 L711.60,123.19 L706.82,120.95 L701.99,118.83 L697.11,116.84 L692.18,114.97 L687.21,113.22 L682.20,111.61 L677.15,110.12 L672.07,108.76 L666.96,107.53 L661.82,106.43 L656.66,105.47 L651.47,104.63 L646.27,103.93 L641.05,103.36 L635.82,102.93 L630.58,102.63 L625.34,102.46 L620.09,102.43 L614.84,102.53 L609.60,102.76 L604.36,103.13 L599.14,103.63 L593.93,104.27 L588.73,105.03 L583.56,105.93 L578.41,106.97 L573.28,108.13 L568.18,109.42 L563.12,110.85 L558.09,112.40 L553.10,114.08 L548.15,115.89 L543.25,117.82 L538.39,119.88 L533.58,122.06 L528.83,124.36 L524.13,126.78 L519.49,129.33 L514.92,131.99 L510.41,134.76 L505.96,137.65 L501.59,140.66 L497.29,143.77 L493.06,147.00 L488.91,150.33 L484.84,153.76 L480.86,157.30 L476.96,160.94 L473.15,164.67 L469.43,168.51 L465.80,172.43 L462.26,176.45 L458.82,180.56 L455.48,184.75 L452.24,189.03 L449.11,193.39 L446.08,197.83 L443.15,202.34 L440.33,206.93 L437.63,211.59 L435.03,216.31 L432.55,221.10 L430.18,225.95 L427.93,230.87 L425.79,235.83 L423.78,240.85 L421.88,245.92 L420.11,251.04 L418.46,256.20 L416.93,261.40 L415.52,266.64 L414.24,271.91 L413.09,277.22 L412.06,282.55 L411.16,287.91 L410.39,293.29 L409.74,298.68 L409.23,304.09 L408.84,309.51 L408.58,314.95 L408.45,320.38 L408.45,325.82 L408.58,331.25 L408.84,336.69 L409.23,342.11 L409.74,347.52 L410.39,352.91 L411.16,358.29 L412.06,363.65 L413.09,368.98 L414.24,374.29 L415.52,379.56 L416.93,384.80 L418.46,390.00 L420.11,395.16 L421.88,400.28 L423.78,405.35 L425.79,410.37 L427.93,415.33 L430.18,420.25 L432.55,425.10 L435.03,429.89 L437.63,434.61 L440.33,439.27 L443.15,443.86 L446.08,448.37 L449.11,452.81 L452.24,457.17 L455.48,461.45 L458.82,465.64 L462.26,469.75 L465.80,473.77 L469.43,477.69 L473.15,481.53 L476.96,485.26 L480.86,488.90 L484.84,492.44 L488.91,495.87 L493.06,499.20 L497.29,502.43 L501.59,505.54 L505.96,508.55 L510.41,511.44 L514.92,514.21 L519.49,516.87 L524.13,519.42 L528.83,521.84 L533.58,524.14 L538.39,526.32 L543.25,528.38 L548.15,530.31 L553.10,532.12 L558.09,533.80 L563.12,535.35 L568.18,536.78 L573.28,538.07 L578.41,539.23 L583.56,540.27 L588.73,541.17 L593.93,541.93 L599.14,542.57 L604.36,543.07 L609.60,543.44 L614.84,543.67 L620.09,543.77 L625.34,543.74 L630.58,543.57 L635.82,543.27 L641.05,542.84 L646.27,542.27 L651.47,541.57 L656.66,540.73 L661.82,539.77 L666.96,538.67 L672.07,537.44 L677.15,536.08 L682.20,534.59 L687.21,532.98 L692.18,531.23 L697.11,529.36 L701.99,527.37 L706.82,525.25 L711.60,523.01 L716.33,520.64 L720.99,518.16 L725.60,515.56 L730.15,512.84 L734.62,510.00 L739.03,507.06 L743.37,504.00 L747.64,500.83 L751.82,497.55 L755.93,494.17 L759.96,490.68 L763.90,487.10 L767.76,483.41 L771.52,479.62 L775.20,475.74 L778.78,471.77 L782.27,467.71 L785.66,463.56 L788.95,459.32 L792.14,455.00 L795.22,450.60 L798.20,446.13 L801.07,441.57 L803.83,436.95 L806.49,432.26 L809.02,427.50 L811.45,422.68 L813.76,417.80 L815.95,412.86 L818.03,407.86 L819.98,402.82 L821.82,397.72 L823.53,392.58 L825.12,387.40 L826.59,382.18 L827.93,376.93 L829.15,371.64 L830.24,366.32 L831.20,360.97 L832.04,355.61 L832.75,350.22 L833.33,344.81 L833.78,339.40 L834.11,333.97 L834.30,328.54ZM867.41,323.10 L867.36,317.67 L867.19,312.24 L866.91,306.82 L866.52,301.41 L866.02,296.00 L865.41,290.61 L864.69,285.23 L863.85,279.87 L862.91,274.53 L861.86,269.21 L860.69,263.92 L859.42,258.65 L858.04,253.41 L856.56,248.21 L854.97,243.03 L853.27,237.90 L851.46,232.80 L849.56,227.74 L847.54,222.73 L845.43,217.76 L843.21,212.84 L840.90,207.97 L838.48,203.15 L835.97,198.39 L833.36,193.68 L830.65,189.04 L827.84,184.45 L824.95,179.92 L821.96,175.46 L818.88,171.07 L815.71,166.75 L812.45,162.49 L809.11,158.31 L805.68,154.21 L802.17,150.18 L798.57,146.23 L794.90,142.36 L791.14,138.57 L787.31,134.87 L783.40,131.25 L779.42,127.72 L775.37,124.28 L771.25,120.92 L767.06,117.66 L762.81,114.49 L758.49,111.42 L754.11,108.44 L749.66,105.56 L745.16,102.78 L740.61,100.10 L736.00,97.52 L731.33,95.04 L726.62,92.67 L721.86,90.40 L717.06,88.23 L712.21,86.18 L707.32,84.23 L702.39,82.38 L697.42,80.65 L692.42,79.03 L687.39,77.52 L682.33,76.12 L677.24,74.83 L672.12,73.65 L666.98,72.59 L661.82,71.64 L656.65,70.81 L651.45,70.08 L646.25,69.48 L641.03,68.99 L635.80,68.61 L630.57,68.35 L625.33,68.21 L620.09,68.18 L614.85,68.27 L609.61,68.47 L604.38,68.79 L599.16,69.22 L593.95,69.77 L588.75,70.43 L583.56,71.21 L578.39,72.10 L573.24,73.11 L568.12,74.23 L563.01,75.46 L557.94,76.80 L552.89,78.26 L547.87,79.83 L542.89,81.50 L537.94,83.29 L533.03,85.19 L528.16,87.19 L523.34,89.30 L518.55,91.52 L513.82,93.84 L509.13,96.27 L504.49,98.80 L499.91,101.43 L495.38,104.16 L490.91,106.99 L486.50,109.92 L482.15,112.95 L477.86,116.07 L473.64,119.28 L469.48,122.59 L465.39,125.99 L461.38,129.47 L457.43,133.05 L453.56,136.71 L449.77,140.46 L446.06,144.29 L442.42,148.20 L438.87,152.19 L435.40,156.25 L432.01,160.40 L428.71,164.61 L425.49,168.90 L422.37,173.26 L419.34,177.69 L416.39,182.18 L413.54,186.73 L410.79,191.35 L408.13,196.03 L405.56,200.77 L403.10,205.56 L400.73,210.40 L398.47,215.30 L396.30,220.24 L394.24,225.23 L392.28,230.27 L390.42,235.34 L388.67,240.46 L387.02,245.62 L385.48,250.81 L384.05,256.03 L382.73,261.28 L381.51,266.56 L380.40,271.87 L379.41,277.20 L378.52,282.55 L377.74,287.92 L377.07,293.31 L376.51,298.70 L376.07,304.11 L375.73,309.53 L375.51,314.96 L375.40,320.39 L375.40,325.81 L375.51,331.24 L375.73,336.67 L376.07,342.09 L376.51,347.50 L377.07,352.89 L377.74,358.28 L378.52,363.65 L379.41,369.00 L380.40,374.33 L381.51,379.64 L382.73,384.92 L384.05,390.17 L385.48,395.39 L387.02,400.58 L388.67,405.74 L390.42,410.86 L392.28,415.93 L394.24,420.97 L396.30,425.96 L398.47,430.90 L400.73,435.80 L403.10,440.64 L405.56,445.43 L408.13,450.17 L410.79,454.85 L413.54,459.47 L416.39,464.02 L419.34,468.51 L422.37,472.94 L425.49,477.30 L428.71,481.59 L432.01,485.80 L435.40,489.95 L438.87,494.01 L442.42,498.00 L446.06,501.91 L449.77,505.74 L453.56,509.49 L457.43,513.15 L461.38,516.73 L465.39,520.21 L469.48,523.61 L473.64,526.92 L477.86,530.13 L482.15,533.25 L486.50,536.28 L490.91,539.21 L495.38,542.04 L499.91,544.77 L504.49,547.40 L509.13,549.93 L513.82,552.36 L518.55,554.68 L523.34,556.90 L528.16,559.01 L533.03,561.01 L537.94,562.91 L542.89,564.70 L547.87,566.37 L552.89,567.94 L557.94,569.40 L563.01,570.74 L568.12,571.97 L573.24,573.09 L578.39,574.10 L583.56,574.99 L588.75,575.77 L593.95,576.43 L599.16,576.98 L604.38,577.41 L609.61,577.73 L614.85,577.93 L620.09,578.02 L625.33,577.99 L630.57,577.85 L635.80,577.59 L641.03,577.21 L646.25,576.72 L651.45,576.12 L656.65,575.39 L661.82,574.56 L666.98,573.61 L672.12,572.55 L677.24,571.37 L682.33,570.08 L687.39,568.68 L692.42,567.17 L697.42,565.55 L702.39,563.82 L707.32,561.97 L712.21,560.02 L717.06,557.97 L721.86,555.80 L726.62,553.53 L731.33,551.16 L736.00,548.68 L740.61,546.10 L745.16,543.42 L749.66,540.64 L754.11,537.76 L758.49,534.78 L762.81,531.71 L767.06,528.54 L771.25,525.28 L775.37,521.92 L779.42,518.48 L783.40,514.95 L787.31,511.33 L791.14,507.63 L794.90,503.84 L798.57,499.97 L802.17,496.02 L805.68,491.99 L809.11,487.89 L812.45,483.71 L815.71,479.45 L818.88,475.13 L821.96,470.74 L824.95,466.28 L827.84,461.75 L830.65,457.16 L833.36,452.52 L835.97,447.81 L838.48,443.05 L840.90,438.23 L843.21,433.36 L845.43,428.44 L847.54,423.47 L849.56,418.46 L851.46,413.40 L853.27,408.30 L854.97,403.17 L856.56,397.99 L858.04,392.79 L859.42,387.55 L860.69,382.28 L861.86,376.99 L862.91,371.67 L863.85,366.33 L864.69,360.97 L865.41,355.59 L866.02,350.20 L866.52,344.79 L866.91,339.38 L867.19,333.96 L867.36,328.53Z" fill="#f9dcc6" fill-rule="evenodd"/>
<path d="M860.71,323.10 L860.65,317.66 L860.46,312.23 L860.16,306.80 L859.74,301.38 L859.20,295.97 L858.54,290.57 L857.76,285.19 L856.87,279.84 L855.85,274.50 L854.71,269.19 L853.46,263.91 L852.09,258.66 L850.61,253.44 L849.01,248.26 L847.30,243.12 L845.47,238.03 L843.53,232.97 L841.48,227.97 L839.32,223.01 L837.05,218.11 L834.68,213.26 L832.19,208.47 L829.60,203.74 L826.91,199.07 L824.12,194.47 L821.22,189.93 L818.22,185.47 L815.13,181.08 L811.94,176.76 L808.65,172.52 L805.27,168.36 L801.80,164.28 L798.24,160.28 L794.60,156.37 L790.86,152.55 L787.05,148.81 L783.15,145.17 L779.17,141.62 L775.12,138.17 L770.99,134.81 L766.79,131.56 L762.51,128.40 L758.17,125.35 L753.76,122.40 L749.29,119.55 L744.75,116.82 L740.16,114.19 L735.51,111.67 L730.80,109.26 L726.04,106.97 L721.24,104.78 L716.38,102.72 L711.48,100.77 L706.54,98.93 L701.56,97.22 L696.55,95.62 L691.49,94.14 L686.41,92.78 L681.30,91.55 L676.17,90.43 L671.01,89.44 L665.82,88.57 L660.63,87.83 L655.41,87.20 L650.19,86.71 L644.95,86.33 L639.71,86.08 L634.46,85.96 L629.21,85.96 L623.97,86.08 L618.72,86.33 L613.49,86.71 L608.26,87.20 L603.05,87.83 L597.85,88.57 L592.67,89.44 L587.51,90.43 L582.37,91.55 L577.26,92.78 L572.18,94.14 L567.13,95.62 L562.11,97.22 L557.13,98.93 L552.19,100.77 L547.29,102.72 L542.44,104.78 L537.63,106.97 L532.87,109.26 L528.17,111.67 L523.52,114.19 L518.92,116.82 L514.39,119.55 L509.91,122.40 L505.50,125.35 L501.16,128.40 L496.89,131.56 L492.68,134.81 L488.55,138.17 L484.50,141.62 L480.52,145.17 L476.63,148.81 L472.81,152.55 L469.08,156.37 L465.43,160.28 L461.87,164.28 L458.40,168.36 L455.02,172.52 L451.74,176.76 L448.55,181.08 L445.45,185.47 L442.46,189.93 L439.56,194.47 L436.76,199.07 L434.07,203.74 L431.48,208.47 L429.00,213.26 L426.62,218.11 L424.35,223.01 L422.19,227.97 L420.14,232.97 L418.20,238.03 L416.37,243.12 L414.66,248.26 L413.06,253.44 L411.58,258.66 L410.21,263.91 L408.96,269.19 L407.83,274.50 L406.81,279.84 L405.91,285.19 L405.13,290.57 L404.47,295.97 L403.93,301.38 L403.51,306.80 L403.21,312.23 L403.03,317.66 L402.97,323.10 L403.03,328.54 L403.21,333.97 L403.51,339.40 L403.93,344.82 L404.47,350.23 L405.13,355.63 L405.91,361.01 L406.81,366.36 L407.83,371.70 L408.96,377.01 L410.21,382.29 L411.58,387.54 L413.06,392.76 L414.66,397.94 L416.37,403.08 L418.20,408.17 L420.14,413.23 L422.19,418.23 L424.35,423.19 L426.62,428.09 L429.00,432.94 L431.48,437.73 L434.07,442.46 L436.76,447.13 L439.56,451.73 L442.46,456.27 L445.45,460.73 L448.55,465.12 L451.74,469.44 L455.02,473.68 L458.40,477.84 L461.87,481.92 L465.43,485.92 L469.08,489.83 L472.81,493.65 L476.63,497.39 L480.52,501.03 L484.50,504.58 L488.55,508.03 L492.68,511.39 L496.89,514.64 L501.16,517.80 L505.50,520.85 L509.91,523.80 L514.39,526.65 L518.92,529.38 L523.52,532.01 L528.17,534.53 L532.87,536.94 L537.63,539.23 L542.44,541.42 L547.29,543.48 L552.19,545.43 L557.13,547.27 L562.11,548.98 L567.13,550.58 L572.18,552.06 L577.26,553.42 L582.37,554.65 L587.51,555.77 L592.67,556.76 L597.85,557.63 L603.05,558.37 L608.26,559.00 L613.49,559.49 L618.72,559.87 L623.97,560.12 L629.21,560.24 L634.46,560.24 L639.71,560.12 L644.95,559.87 L650.19,559.49 L655.41,559.00 L660.63,558.37 L665.82,557.63 L671.01,556.76 L676.17,555.77 L681.30,554.65 L686.41,553.42 L691.49,552.06 L696.55,550.58 L701.56,548.98 L706.54,547.27 L711.48,545.43 L716.38,543.48 L721.24,541.42 L726.04,539.23 L730.80,536.94 L735.51,534.53 L740.16,532.01 L744.75,529.38 L749.29,526.65 L753.76,523.80 L758.17,520.85 L762.51,517.80 L766.79,514.64 L770.99,511.39 L775.12,508.03 L779.17,504.58 L783.15,501.03 L787.05,497.39 L790.86,493.65 L794.60,489.83 L798.24,485.92 L801.80,481.92 L805.27,477.84 L808.65,473.68 L811.94,469.44 L815.13,465.12 L818.22,460.73 L821.22,456.27 L824.12,451.73 L826.91,447.13 L829.60,442.46 L832.19,437.73 L834.68,432.94 L837.05,428.09 L839.32,423.19 L841.48,418.23 L843.53,413.23 L845.47,408.17 L847.30,403.08 L849.01,397.94 L850.61,392.76 L852.09,387.54 L853.46,382.29 L854.71,377.01 L855.85,371.70 L856.87,366.36 L857.76,361.01 L858.54,355.63 L859.20,350.23 L859.74,344.82 L860.16,339.40 L860.46,333.97 L860.65,328.54ZM871.89,323.10 L871.83,317.67 L871.66,312.25 L871.37,306.83 L870.97,301.42 L870.46,296.02 L869.83,290.63 L869.09,285.26 L868.24,279.91 L867.28,274.57 L866.20,269.26 L865.01,263.98 L863.71,258.72 L862.30,253.49 L860.78,248.30 L859.15,243.14 L857.41,238.02 L855.57,232.95 L853.62,227.91 L851.56,222.92 L849.40,217.98 L847.13,213.08 L844.76,208.24 L842.30,203.46 L839.73,198.73 L837.06,194.06 L834.29,189.45 L831.43,184.90 L828.48,180.43 L825.42,176.01 L822.28,171.67 L819.05,167.40 L815.73,163.21 L812.32,159.09 L808.82,155.05 L805.24,151.09 L801.58,147.21 L797.84,143.42 L794.01,139.71 L790.11,136.08 L786.14,132.55 L782.09,129.11 L777.97,125.76 L773.78,122.50 L769.52,119.34 L765.20,116.28 L760.82,113.31 L756.37,110.44 L751.86,107.68 L747.30,105.02 L742.68,102.46 L738.01,100.01 L733.29,97.66 L728.52,95.42 L723.70,93.29 L718.84,91.27 L713.94,89.36 L709.00,87.56 L704.02,85.87 L699.01,84.29 L693.97,82.83 L688.89,81.48 L683.79,80.25 L678.67,79.13 L673.52,78.13 L668.35,77.25 L663.17,76.48 L657.97,75.83 L652.76,75.30 L647.54,74.89 L642.31,74.59 L637.07,74.41 L631.84,74.36 L626.60,74.41 L621.37,74.59 L616.14,74.89 L610.92,75.30 L605.70,75.83 L600.50,76.48 L595.32,77.25 L590.15,78.13 L585.01,79.13 L579.88,80.25 L574.78,81.48 L569.71,82.83 L564.66,84.29 L559.65,85.87 L554.68,87.56 L549.73,89.36 L544.83,91.27 L539.97,93.29 L535.16,95.42 L530.39,97.66 L525.67,100.01 L520.99,102.46 L516.38,105.02 L511.81,107.68 L507.30,110.44 L502.86,113.31 L498.47,116.28 L494.15,119.34 L489.89,122.50 L485.70,125.76 L481.58,129.11 L477.54,132.55 L473.56,136.08 L469.66,139.71 L465.84,143.42 L462.10,147.21 L458.43,151.09 L454.85,155.05 L451.36,159.09 L447.95,163.21 L444.62,167.40 L441.39,171.67 L438.25,176.01 L435.20,180.43 L432.24,184.90 L429.38,189.45 L426.61,194.06 L423.95,198.73 L421.38,203.46 L418.91,208.24 L416.54,213.08 L414.28,217.98 L412.12,222.92 L410.06,227.91 L408.11,232.95 L406.26,238.02 L404.53,243.14 L402.90,248.30 L401.38,253.49 L399.97,258.72 L398.67,263.98 L397.48,269.26 L396.40,274.57 L395.43,279.91 L394.58,285.26 L393.84,290.63 L393.21,296.02 L392.70,301.42 L392.30,306.83 L392.01,312.25 L391.84,317.67 L391.79,323.10 L391.84,328.53 L392.01,333.95 L392.30,339.37 L392.70,344.78 L393.21,350.18 L393.84,355.57 L394.58,360.94 L395.43,366.29 L396.40,371.63 L397.48,376.94 L398.67,382.22 L399.97,387.48 L401.38,392.71 L402.90,397.90 L404.53,403.06 L406.26,408.18 L408.11,413.25 L410.06,418.29 L412.12,423.28 L414.28,428.22 L416.54,433.12 L418.91,437.96 L421.38,442.74 L423.95,447.47 L426.61,452.14 L429.38,456.75 L432.24,461.30 L435.20,465.77 L438.25,470.19 L441.39,474.53 L444.62,478.80 L447.95,482.99 L451.36,487.11 L454.85,491.15 L458.43,495.11 L462.10,498.99 L465.84,502.78 L469.66,506.49 L473.56,510.12 L477.54,513.65 L481.58,517.09 L485.70,520.44 L489.89,523.70 L494.15,526.86 L498.47,529.92 L502.86,532.89 L507.30,535.76 L511.81,538.52 L516.38,541.18 L520.99,543.74 L525.67,546.19 L530.39,548.54 L535.16,550.78 L539.97,552.91 L544.83,554.93 L549.73,556.84 L554.68,558.64 L559.65,560.33 L564.66,561.91 L569.71,563.37 L574.78,564.72 L579.88,565.95 L585.01,567.07 L590.15,568.07 L595.32,568.95 L600.50,569.72 L605.70,570.37 L610.92,570.90 L616.14,571.31 L621.37,571.61 L626.60,571.79 L631.84,571.85 L637.07,571.79 L642.31,571.61 L647.54,571.31 L652.76,570.90 L657.97,570.37 L663.17,569.72 L668.35,568.95 L673.52,568.07 L678.67,567.07 L683.79,565.95 L688.89,564.72 L693.97,563.37 L699.01,561.91 L704.02,560.33 L709.00,558.64 L713.94,556.84 L718.84,554.93 L723.70,552.91 L728.52,550.78 L733.29,548.54 L738.01,546.19 L742.68,543.74 L747.30,541.18 L751.86,538.52 L756.37,535.76 L760.82,532.89 L765.20,529.92 L769.52,526.86 L773.78,523.70 L777.97,520.44 L782.09,517.09 L786.14,513.65 L790.11,510.12 L794.01,506.49 L797.84,502.78 L801.58,498.99 L805.24,495.11 L808.82,491.15 L812.32,487.11 L815.73,482.99 L819.05,478.80 L822.28,474.53 L825.42,470.19 L828.48,465.77 L831.43,461.30 L834.29,456.75 L837.06,452.14 L839.73,447.47 L842.30,442.74 L844.76,437.96 L847.13,433.12 L849.40,428.22 L851.56,423.28 L853.62,418.29 L855.57,413.25 L857.41,408.18 L859.15,403.06 L860.78,397.90 L862.30,392.71 L863.71,387.48 L865.01,382.22 L866.20,376.94 L867.28,371.63 L868.24,366.29 L869.09,360.94 L869.83,355.57 L870.46,350.18 L870.97,344.78 L871.37,339.37 L871.66,333.95 L871.83,328.53Z" fill="#efb0a0" fill-rule="evenodd"/>
<path d="M25.00,271.43 L29.85,271.06 L34.71,270.68 L39.56,270.29 L44.42,269.90 L49.27,269.50 L54.13,269.10 L58.98,268.69 L63.84,268.27 L68.69,267.85 L73.54,267.42 L78.40,266.99 L83.25,266.55 L88.11,266.10 L92.96,265.64 L97.82,265.18 L102.67,264.70 L107.53,264.23 L112.38,263.74 L117.23,263.24 L122.09,262.74 L126.94,262.23 L131.80,261.71 L136.65,261.18 L141.51,260.64 L146.36,260.09 L151.22,259.53 L156.07,258.97 L160.92,258.39 L165.78,257.80 L170.63,257.20 L175.49,256.59 L180.34,255.97 L185.20,255.33 L190.05,254.69 L194.91,254.03 L199.76,253.36 L204.62,252.67 L209.47,251.97 L214.32,251.26 L219.18,250.54 L224.03,249.79 L228.89,249.04 L233.74,248.27 L238.60,247.48 L243.45,246.67 L248.31,245.85 L253.16,245.01 L258.01,244.15 L262.87,243.27 L267.72,242.37 L272.58,241.46 L277.43,240.52 L282.29,239.55 L287.14,238.57 L292.00,237.56 L296.85,236.53 L301.70,235.48 L306.56,234.39 L311.41,233.28 L316.27,232.14 L321.12,230.98 L325.98,229.78 L330.83,228.55 L335.69,227.29 L340.54,225.99 L345.39,224.66 L350.25,223.29 L355.10,221.88 L359.96,220.43 L364.81,218.94 L369.67,217.41 L374.52,215.83 L379.38,214.20 L384.23,212.53 L389.08,210.80 L393.94,209.01 L398.79,207.17 L403.65,205.26 L408.50,203.30 L413.36,201.26 L418.21,199.16 L423.07,196.98 L427.92,194.73 L432.77,192.39 L437.63,189.96 L442.48,187.45 L447.34,184.83 L452.19,182.12 L457.05,179.29 L461.90,176.35 L466.76,173.29 L471.61,170.10 L476.46,166.76 L481.32,163.28 L486.17,159.64 L491.03,155.83 L495.88,151.84 L500.74,147.66 L505.59,143.26 L510.45,138.64 L515.30,133.77 L520.16,128.64 L525.01,123.23 L529.86,117.50 L534.72,111.44 L539.57,105.01 L544.43,98.17 L549.28,90.89 L554.14,83.13 L558.99,74.83 L563.85,65.93 L568.70,56.38 L573.55,46.08 L578.41,34.96 L583.26,22.91 L588.12,9.81 L592.97,-4.49 L597.83,-20.16 L602.68,-37.40 L631.97,-37.40 L626.87,-11.26 L621.77,11.34 L616.67,31.08 L611.57,48.47 L606.47,63.91 L601.36,77.70 L596.26,90.10 L591.16,101.30 L586.06,111.48 L580.96,120.77 L575.86,129.27 L570.76,137.09 L565.66,144.30 L560.56,150.97 L555.46,157.17 L550.36,162.93 L545.26,168.31 L540.16,173.33 L535.06,178.04 L529.96,182.47 L524.86,186.63 L519.76,190.55 L514.66,194.25 L509.55,197.76 L504.45,201.07 L499.35,204.22 L494.25,207.21 L489.15,210.05 L484.05,212.75 L478.95,215.33 L473.85,217.79 L468.75,220.14 L463.65,222.39 L458.55,224.54 L453.45,226.61 L448.35,228.58 L443.25,230.48 L438.15,232.31 L433.05,234.06 L427.95,235.74 L422.84,237.37 L417.74,238.93 L412.64,240.44 L407.54,241.90 L402.44,243.30 L397.34,244.66 L392.24,245.97 L387.14,247.24 L382.04,248.47 L376.94,249.66 L371.84,250.81 L366.74,251.92 L361.64,253.01 L356.54,254.05 L351.44,255.07 L346.34,256.06 L341.24,257.02 L336.14,257.96 L331.03,258.86 L325.93,259.75 L320.83,260.60 L315.73,261.44 L310.63,262.25 L305.53,263.05 L300.43,263.82 L295.33,264.57 L290.23,265.30 L285.13,266.02 L280.03,266.72 L274.93,267.40 L269.83,268.06 L264.73,268.71 L259.63,269.35 L254.53,269.97 L249.43,270.57 L244.32,271.16 L239.22,271.74 L234.12,272.31 L229.02,272.86 L223.92,273.40 L218.82,273.93 L213.72,274.45 L208.62,274.96 L203.52,275.45 L198.42,275.94 L193.32,276.42 L188.22,276.89 L183.12,277.35 L178.02,277.80 L172.92,278.24 L167.82,278.67 L162.72,279.09 L157.61,279.51 L152.51,279.92 L147.41,280.32 L142.31,280.71 L137.21,281.10 L132.11,281.48 L127.01,281.85 L121.91,282.21 L116.81,282.57 L111.71,282.93 L106.61,283.27 L101.51,283.61 L96.41,283.95 L91.31,284.28 L86.21,284.60 L81.11,284.92 L76.01,285.23 L70.91,285.54 L65.80,285.85 L60.70,286.15 L55.60,286.44 L50.50,286.73 L45.40,287.01 L40.30,287.29 L35.20,287.57 L30.10,287.84 L25.00,288.11ZM608.76,683.60 L609.89,677.87 L611.03,672.33 L612.16,666.95 L613.29,661.74 L614.42,656.68 L615.55,651.77 L616.68,647.00 L617.82,642.37 L618.95,637.87 L620.08,633.50 L621.21,629.24 L622.34,625.10 L623.47,621.07 L624.61,617.15 L625.74,613.33 L626.87,609.61 L628.00,605.98 L629.13,602.44 L630.26,598.99 L631.40,595.62 L632.53,592.34 L633.66,589.13 L634.79,586.00 L635.92,582.94 L637.05,579.95 L638.19,577.03 L639.32,574.18 L640.45,571.39 L641.58,568.66 L642.71,565.99 L643.84,563.37 L644.98,560.82 L646.11,558.31 L647.24,555.86 L648.37,553.46 L649.50,551.11 L650.63,548.80 L651.77,546.55 L652.90,544.33 L654.03,542.16 L655.16,540.04 L656.29,537.95 L657.42,535.90 L658.56,533.89 L659.69,531.92 L660.82,529.99 L661.95,528.09 L663.08,526.22 L664.22,524.39 L665.35,522.60 L666.48,520.83 L667.61,519.09 L668.74,517.39 L669.87,515.71 L671.01,514.07 L672.14,512.45 L673.27,510.86 L674.40,509.29 L675.53,507.75 L676.66,506.24 L677.80,504.75 L678.93,503.28 L680.06,501.84 L681.19,500.42 L682.32,499.02 L683.45,497.65 L684.59,496.30 L685.72,494.96 L686.85,493.65 L687.98,492.36 L689.11,491.09 L690.24,489.83 L691.38,488.60 L692.51,487.38 L693.64,486.18 L694.77,485.00 L695.90,483.83 L697.03,482.68 L698.17,481.55 L699.30,480.43 L700.43,479.33 L701.56,478.25 L702.69,477.18 L703.82,476.12 L704.96,475.08 L706.09,474.05 L707.22,473.04 L708.35,472.04 L709.48,471.05 L710.61,470.08 L711.75,469.12 L712.88,468.17 L714.01,467.23 L715.14,466.31 L716.27,465.40 L717.40,464.50 L718.54,463.61 L719.67,462.73 L720.80,461.86 L720.80,519.90 L719.94,520.81 L719.08,521.72 L718.23,522.65 L717.37,523.58 L716.51,524.52 L715.65,525.47 L714.79,526.43 L713.93,527.40 L713.08,528.38 L712.22,529.36 L711.36,530.36 L710.50,531.36 L709.64,532.38 L708.78,533.41 L707.93,534.44 L707.07,535.49 L706.21,536.54 L705.35,537.61 L704.49,538.69 L703.63,539.78 L702.78,540.88 L701.92,541.99 L701.06,543.11 L700.20,544.25 L699.34,545.39 L698.48,546.55 L697.63,547.72 L696.77,548.90 L695.91,550.10 L695.05,551.30 L694.19,552.52 L693.34,553.76 L692.48,555.00 L691.62,556.26 L690.76,557.54 L689.90,558.82 L689.04,560.13 L688.19,561.44 L687.33,562.77 L686.47,564.12 L685.61,565.48 L684.75,566.86 L683.89,568.25 L683.04,569.66 L682.18,571.09 L681.32,572.53 L680.46,573.99 L679.60,575.46 L678.74,576.96 L677.89,578.47 L677.03,580.00 L676.17,581.54 L675.31,583.11 L674.45,584.69 L673.59,586.30 L672.74,587.92 L671.88,589.57 L671.02,591.23 L670.16,592.92 L669.30,594.63 L668.45,596.36 L667.59,598.11 L666.73,599.88 L665.87,601.68 L665.01,603.50 L664.15,605.34 L663.30,607.21 L662.44,609.11 L661.58,611.03 L660.72,612.97 L659.86,614.94 L659.00,616.94 L658.15,618.97 L657.29,621.02 L656.43,623.10 L655.57,625.22 L654.71,627.36 L653.85,629.53 L653.00,631.74 L652.14,633.97 L651.28,636.24 L650.42,638.54 L649.56,640.88 L648.70,643.25 L647.85,645.66 L646.99,648.10 L646.13,650.58 L645.27,653.10 L644.41,655.66 L643.56,658.26 L642.70,660.89 L641.84,663.58 L640.98,666.30 L640.12,669.07 L639.26,671.88 L638.41,674.74 L637.55,677.64 L636.69,680.60 L635.83,683.60Z" fill="#e6d2e8"/>
<path d="M621.40,323.10 L25.00,56.93 L25.00,95.99ZM621.40,323.10 L720.80,367.46 L720.80,360.95Z" fill="#a3d3a2"/>
<path d="M621.59,315.89 L621.52,311.39 L621.29,306.89 L620.91,302.41 L620.38,297.94 L619.70,293.50 L618.88,289.08 L617.90,284.69 L616.77,280.35 L615.50,276.04 L614.09,271.79 L612.53,267.58 L610.84,263.44 L609.00,259.36 L607.03,255.35 L604.92,251.41 L602.69,247.56 L600.32,243.78 L597.83,240.09 L595.21,236.50 L592.48,233.00 L589.63,229.60 L586.67,226.31 L583.60,223.13 L580.42,220.06 L577.14,217.11 L573.77,214.27 L570.30,211.57 L566.74,208.98 L563.10,206.53 L559.37,204.21 L555.57,202.03 L551.70,199.99 L547.77,198.09 L543.77,196.33 L539.71,194.72 L535.61,193.25 L531.45,191.93 L527.26,190.77 L523.02,189.76 L518.76,188.90 L514.47,188.19 L510.16,187.64 L505.83,187.25 L501.49,187.02 L497.15,186.94 L492.81,187.02 L488.47,187.25 L484.14,187.64 L479.83,188.19 L475.54,188.90 L471.28,189.76 L467.04,190.77 L462.85,191.93 L458.69,193.25 L454.59,194.72 L450.53,196.33 L446.53,198.09 L442.60,199.99 L438.73,202.03 L434.93,204.21 L431.20,206.53 L427.56,208.98 L424.00,211.57 L420.53,214.27 L417.16,217.11 L413.88,220.06 L410.70,223.13 L407.63,226.31 L404.67,229.60 L401.82,233.00 L399.09,236.50 L396.47,240.09 L393.98,243.78 L391.61,247.56 L389.38,251.41 L387.27,255.35 L385.30,259.36 L383.46,263.44 L381.77,267.58 L380.21,271.79 L378.80,276.04 L377.53,280.35 L376.40,284.69 L375.42,289.08 L374.60,293.50 L373.92,297.94 L373.39,302.41 L373.01,306.89 L372.78,311.39 L372.71,315.89 L372.78,320.39 L373.01,324.89 L373.39,329.37 L373.92,333.84 L374.60,338.28 L375.42,342.70 L376.40,347.09 L377.53,351.43 L378.80,355.74 L380.21,359.99 L381.77,364.20 L383.46,368.34 L385.30,372.42 L387.27,376.43 L389.38,380.37 L391.61,384.22 L393.98,388.00 L396.47,391.69 L399.09,395.28 L401.82,398.78 L404.67,402.18 L407.63,405.47 L410.70,408.65 L413.88,411.72 L417.16,414.67 L420.53,417.51 L424.00,420.21 L427.56,422.80 L431.20,425.25 L434.93,427.57 L438.73,429.75 L442.60,431.79 L446.53,433.69 L450.53,435.45 L454.59,437.06 L458.69,438.53 L462.85,439.85 L467.04,441.01 L471.28,442.02 L475.54,442.88 L479.83,443.59 L484.14,444.14 L488.47,444.53 L492.81,444.76 L497.15,444.84 L501.49,444.76 L505.83,444.53 L510.16,444.14 L514.47,443.59 L518.76,442.88 L523.02,442.02 L527.26,441.01 L531.45,439.85 L535.61,438.53 L539.71,437.06 L543.77,435.45 L547.77,433.69 L551.70,431.79 L555.57,429.75 L559.37,427.57 L563.10,425.25 L566.74,422.80 L570.30,420.21 L573.77,417.51 L577.14,414.67 L580.42,411.72 L583.60,408.65 L586.67,405.47 L589.63,402.18 L592.48,398.78 L595.21,395.28 L597.83,391.69 L600.32,388.00 L602.69,384.22 L604.92,380.37 L607.03,376.43 L609.00,372.42 L610.84,368.34 L612.53,364.20 L614.09,359.99 L615.50,355.74 L616.77,351.43 L617.90,347.09 L618.88,342.70 L619.70,338.28 L620.38,333.84 L620.91,329.37 L621.29,324.89 L621.52,320.39ZM624.64,352.71 L624.57,348.10 L624.33,343.50 L623.95,338.90 L623.40,334.33 L622.71,329.77 L621.86,325.24 L620.86,320.75 L619.71,316.30 L618.40,311.89 L616.96,307.53 L615.36,303.22 L613.62,298.98 L611.74,294.80 L609.72,290.69 L607.56,286.66 L605.27,282.70 L602.85,278.84 L600.29,275.06 L597.62,271.38 L594.82,267.79 L591.90,264.31 L588.86,260.94 L585.71,257.68 L582.46,254.53 L579.10,251.51 L575.64,248.61 L572.09,245.83 L568.44,243.19 L564.71,240.68 L560.90,238.30 L557.00,236.06 L553.04,233.97 L549.01,232.02 L544.91,230.22 L540.76,228.57 L536.55,227.07 L532.29,225.72 L527.99,224.53 L523.66,223.49 L519.29,222.61 L514.89,221.89 L510.48,221.32 L506.04,220.92 L501.60,220.68 L497.15,220.60 L492.70,220.68 L488.26,220.92 L483.82,221.32 L479.41,221.89 L475.01,222.61 L470.64,223.49 L466.31,224.53 L462.01,225.72 L457.75,227.07 L453.54,228.57 L449.39,230.22 L445.29,232.02 L441.26,233.97 L437.30,236.06 L433.40,238.30 L429.59,240.68 L425.86,243.19 L422.21,245.83 L418.66,248.61 L415.20,251.51 L411.84,254.53 L408.59,257.68 L405.44,260.94 L402.40,264.31 L399.48,267.79 L396.68,271.38 L394.01,275.06 L391.45,278.84 L389.03,282.70 L386.74,286.66 L384.58,290.69 L382.56,294.80 L380.68,298.98 L378.94,303.22 L377.34,307.53 L375.90,311.89 L374.59,316.30 L373.44,320.75 L372.44,325.24 L371.59,329.77 L370.90,334.33 L370.35,338.90 L369.97,343.50 L369.73,348.10 L369.66,352.71 L369.73,357.32 L369.97,361.93 L370.35,366.52 L370.90,371.10 L371.59,375.65 L372.44,380.18 L373.44,384.67 L374.59,389.13 L375.90,393.54 L377.34,397.90 L378.94,402.20 L380.68,406.45 L382.56,410.63 L384.58,414.74 L386.74,418.77 L389.03,422.72 L391.45,426.59 L394.01,430.37 L396.68,434.05 L399.48,437.63 L402.40,441.11 L405.44,444.48 L408.59,447.75 L411.84,450.89 L415.20,453.92 L418.66,456.82 L422.21,459.59 L425.86,462.24 L429.59,464.75 L433.40,467.12 L437.30,469.36 L441.26,471.45 L445.29,473.40 L449.39,475.20 L453.54,476.86 L457.75,478.36 L462.01,479.71 L466.31,480.90 L470.64,481.94 L475.01,482.82 L479.41,483.54 L483.82,484.10 L488.26,484.50 L492.70,484.74 L497.15,484.82 L501.60,484.74 L506.04,484.50 L510.48,484.10 L514.89,483.54 L519.29,482.82 L523.66,481.94 L527.99,480.90 L532.29,479.71 L536.55,478.36 L540.76,476.86 L544.91,475.20 L549.01,473.40 L553.04,471.45 L557.00,469.36 L560.90,467.12 L564.71,464.75 L568.44,462.24 L572.09,459.59 L575.64,456.82 L579.10,453.92 L582.46,450.89 L585.71,447.75 L588.86,444.48 L591.90,441.11 L594.82,437.63 L597.62,434.05 L600.29,430.37 L602.85,426.59 L605.27,422.72 L607.56,418.77 L609.72,414.74 L611.74,410.63 L613.62,406.45 L615.36,402.20 L616.96,397.90 L618.40,393.54 L619.71,389.13 L620.86,384.67 L621.86,380.18 L622.71,375.65 L623.40,371.10 L623.95,366.52 L624.33,361.93 L624.57,357.32ZM899.51,719.65 L899.47,714.22 L899.37,708.78 L899.20,703.35 L898.96,697.92 L898.65,692.49 L898.28,687.07 L897.83,681.66 L897.32,676.25 L896.74,670.85 L896.09,665.45 L895.38,660.07 L894.59,654.70 L893.74,649.33 L892.82,643.98 L891.84,638.64 L890.79,633.32 L889.67,628.01 L888.48,622.72 L887.23,617.44 L885.91,612.18 L884.52,606.94 L883.07,601.71 L881.56,596.51 L879.97,591.33 L878.33,586.17 L876.62,581.03 L874.84,575.92 L873.00,570.83 L871.10,565.76 L869.13,560.73 L867.10,555.72 L865.00,550.73 L862.85,545.78 L860.63,540.85 L858.35,535.96 L856.01,531.10 L853.61,526.26 L851.14,521.47 L848.62,516.70 L846.04,511.97 L843.39,507.28 L840.69,502.62 L837.93,498.00 L835.12,493.41 L832.24,488.87 L829.31,484.36 L826.32,479.89 L823.28,475.47 L820.18,471.08 L817.02,466.74 L813.82,462.44 L810.55,458.19 L807.24,453.97 L803.87,449.81 L800.45,445.69 L796.98,441.61 L793.45,437.59 L789.88,433.61 L786.26,429.68 L782.58,425.80 L778.86,421.97 L775.09,418.19 L771.28,414.46 L767.42,410.78 L763.51,407.16 L759.55,403.59 L755.56,400.07 L751.51,396.61 L747.43,393.20 L743.30,389.85 L739.13,386.55 L734.92,383.31 L730.67,380.13 L726.38,377.00 L722.05,373.93 L717.68,370.93 L713.27,367.98 L708.83,365.09 L704.35,362.26 L699.84,359.49 L695.29,356.78 L690.71,354.14 L686.10,351.55 L681.45,349.03 L676.77,346.57 L672.06,344.18 L667.32,341.85 L662.56,339.58 L657.76,337.38 L652.94,335.24 L648.09,333.17 L643.22,331.17 L638.32,329.23 L633.39,327.35 L628.45,325.55 L623.48,323.81 L618.49,322.13 L613.48,320.53 L608.45,318.99 L603.40,317.52 L598.33,316.12 L593.24,314.79 L588.14,313.52 L583.03,312.33 L577.89,311.20 L572.75,310.15 L567.59,309.16 L562.42,308.25 L557.24,307.40 L552.05,306.62 L546.85,305.92 L541.64,305.28 L536.42,304.71 L531.20,304.22 L525.97,303.79 L520.74,303.44 L515.50,303.16 L510.26,302.94 L505.02,302.80 L499.77,302.73 L494.53,302.73 L489.28,302.80 L484.04,302.94 L478.80,303.16 L473.56,303.44 L468.33,303.79 L463.10,304.22 L457.88,304.71 L452.66,305.28 L447.45,305.92 L442.25,306.62 L437.06,307.40 L431.88,308.25 L426.71,309.16 L421.55,310.15 L416.41,311.20 L411.27,312.33 L406.16,313.52 L401.06,314.79 L395.97,316.12 L390.90,317.52 L385.85,318.99 L380.82,320.53 L375.81,322.13 L370.82,323.81 L365.85,325.55 L360.91,327.35 L355.98,329.23 L351.08,331.17 L346.21,333.17 L341.36,335.24 L336.54,337.38 L331.74,339.58 L326.98,341.85 L322.24,344.18 L317.53,346.57 L312.85,349.03 L308.20,351.55 L303.59,354.14 L299.01,356.78 L294.46,359.49 L289.95,362.26 L285.47,365.09 L281.03,367.98 L276.62,370.93 L272.25,373.93 L267.92,377.00 L263.63,380.13 L259.38,383.31 L255.17,386.55 L251.00,389.85 L246.87,393.20 L242.79,396.61 L238.74,400.07 L234.75,403.59 L230.79,407.16 L226.88,410.78 L223.02,414.46 L219.21,418.19 L215.44,421.97 L211.72,425.80 L208.04,429.68 L204.42,433.61 L200.85,437.59 L197.32,441.61 L193.85,445.69 L190.43,449.81 L187.06,453.97 L183.75,458.19 L180.48,462.44 L177.28,466.74 L174.12,471.08 L171.02,475.47 L167.98,479.89 L164.99,484.36 L162.06,488.87 L159.18,493.41 L156.37,498.00 L153.61,502.62 L150.91,507.28 L148.26,511.97 L145.68,516.70 L143.16,521.47 L140.69,526.26 L138.29,531.10 L135.95,535.96 L133.67,540.85 L131.45,545.78 L129.30,550.73 L127.20,555.72 L125.17,560.73 L123.20,565.76 L121.30,570.83 L119.46,575.92 L117.68,581.03 L115.97,586.17 L114.33,591.33 L112.74,596.51 L111.23,601.71 L109.78,606.94 L108.39,612.18 L107.07,617.44 L105.82,622.72 L104.63,628.01 L103.51,633.32 L102.46,638.64 L101.48,643.98 L100.56,649.33 L99.71,654.70 L98.92,660.07 L98.21,665.45 L97.56,670.85 L96.98,676.25 L96.47,681.66 L96.02,687.07 L95.65,692.49 L95.34,697.92 L95.10,703.35 L94.93,708.78 L94.83,714.22 L94.79,719.65 L94.83,725.08 L94.93,730.52 L95.10,735.95 L95.34,741.38 L95.65,746.81 L96.02,752.23 L96.47,757.64 L96.98,763.05 L97.56,768.45 L98.21,773.85 L98.92,779.23 L99.71,784.60 L100.56,789.97 L101.48,795.32 L102.46,800.66 L103.51,805.98 L104.63,811.29 L105.82,816.58 L107.07,821.86 L108.39,827.12 L109.78,832.36 L111.23,837.59 L112.74,842.79 L114.33,847.97 L115.97,853.13 L117.68,858.27 L119.46,863.38 L121.30,868.47 L123.20,873.54 L125.17,878.57 L127.20,883.58 L129.30,888.57 L131.45,893.52 L133.67,898.45 L135.95,903.34 L138.29,908.20 L140.69,913.04 L143.16,917.83 L145.68,922.60 L148.26,927.33 L150.91,932.02 L153.61,936.68 L156.37,941.30 L159.18,945.89 L162.06,950.43 L164.99,954.94 L167.98,959.41 L171.02,963.83 L174.12,968.22 L177.28,972.56 L180.48,976.86 L183.75,981.11 L187.06,985.33 L190.43,989.49 L193.85,993.61 L197.32,997.69 L200.85,1001.71 L204.42,1005.69 L208.04,1009.62 L211.72,1013.50 L215.44,1017.33 L219.21,1021.11 L223.02,1024.84 L226.88,1028.52 L230.79,1032.14 L234.75,1035.71 L238.74,1039.23 L242.79,1042.69 L246.87,1046.10 L251.00,1049.45 L255.17,1052.75 L259.38,1055.99 L263.63,1059.17 L267.92,1062.30 L272.25,1065.37 L276.62,1068.37 L281.03,1071.32 L285.47,1074.21 L289.95,1077.04 L294.46,1079.81 L299.01,1082.52 L303.59,1085.16 L308.20,1087.75 L312.85,1090.27 L317.53,1092.73 L322.24,1095.12 L326.98,1097.45 L331.74,1099.72 L336.54,1101.92 L341.36,1104.06 L346.21,1106.13 L351.08,1108.13 L355.98,1110.07 L360.91,1111.95 L365.85,1113.75 L370.82,1115.49 L375.81,1117.17 L380.82,1118.77 L385.85,1120.31 L390.90,1121.78 L395.97,1123.18 L401.06,1124.51 L406.16,1125.78 L411.27,1126.97 L416.41,1128.10 L421.55,1129.15 L426.71,1130.14 L431.88,1131.05 L437.06,1131.90 L442.25,1132.68 L447.45,1133.38 L452.66,1134.02 L457.88,1134.59 L463.10,1135.08 L468.33,1135.51 L473.56,1135.86 L478.80,1136.14 L484.04,1136.36 L489.28,1136.50 L494.53,1136.57 L499.77,1136.57 L505.02,1136.50 L510.26,1136.36 L515.50,1136.14 L520.74,1135.86 L525.97,1135.51 L531.20,1135.08 L536.42,1134.59 L541.64,1134.02 L546.85,1133.38 L552.05,1132.68 L557.24,1131.90 L562.42,1131.05 L567.59,1130.14 L572.75,1129.15 L577.89,1128.10 L583.03,1126.97 L588.14,1125.78 L593.24,1124.51 L598.33,1123.18 L603.40,1121.78 L608.45,1120.31 L613.48,1118.77 L618.49,1117.17 L623.48,1115.49 L628.45,1113.75 L633.39,1111.95 L638.32,1110.07 L643.22,1108.13 L648.09,1106.13 L652.94,1104.06 L657.76,1101.92 L662.56,1099.72 L667.32,1097.45 L672.06,1095.12 L676.77,1092.73 L681.45,1090.27 L686.10,1087.75 L690.71,1085.16 L695.29,1082.52 L699.84,1079.81 L704.35,1077.04 L708.83,1074.21 L713.27,1071.32 L717.68,1068.37 L722.05,1065.37 L726.38,1062.30 L730.67,1059.17 L734.92,1055.99 L739.13,1052.75 L743.30,1049.45 L747.43,1046.10 L751.51,1042.69 L755.56,1039.23 L759.55,1035.71 L763.51,1032.14 L767.42,1028.52 L771.28,1024.84 L775.09,1021.11 L778.86,1017.33 L782.58,1013.50 L786.26,1009.62 L789.88,1005.69 L793.45,1001.71 L796.98,997.69 L800.45,993.61 L803.87,989.49 L807.24,985.33 L810.55,981.11 L813.82,976.86 L817.02,972.56 L820.18,968.22 L823.28,963.83 L826.32,959.41 L829.31,954.94 L832.24,950.43 L835.12,945.89 L837.93,941.30 L840.69,936.68 L843.39,932.02 L846.04,927.33 L848.62,922.60 L851.14,917.83 L853.61,913.04 L856.01,908.20 L858.35,903.34 L860.63,898.45 L862.85,893.52 L865.00,888.57 L867.10,883.58 L869.13,878.57 L871.10,873.54 L873.00,868.47 L874.84,863.38 L876.62,858.27 L878.33,853.13 L879.97,847.97 L881.56,842.79 L883.07,837.59 L884.52,832.36 L885.91,827.12 L887.23,821.86 L888.48,816.58 L889.67,811.29 L890.79,805.98 L891.84,800.66 L892.82,795.32 L893.74,789.97 L894.59,784.60 L895.38,779.23 L896.09,773.85 L896.74,768.45 L897.32,763.05 L897.83,757.64 L898.28,752.23 L898.65,746.81 L898.96,741.38 L899.20,735.95 L899.37,730.52 L899.47,725.08ZM1163.88,1001.87 L1163.86,996.44 L1163.79,991.02 L1163.69,985.59 L1163.55,980.17 L1163.36,974.75 L1163.14,969.33 L1162.87,963.91 L1162.56,958.49 L1162.21,953.08 L1161.82,947.66 L1161.39,942.26 L1160.92,936.85 L1160.40,931.45 L1159.85,926.06 L1159.25,920.67 L1158.62,915.28 L1157.94,909.90 L1157.22,904.53 L1156.47,899.16 L1155.67,893.79 L1154.83,888.44 L1153.95,883.09 L1153.03,877.75 L1152.07,872.41 L1151.06,867.09 L1150.02,861.77 L1148.94,856.46 L1147.82,851.16 L1146.66,845.87 L1145.45,840.59 L1144.21,835.32 L1142.93,830.06 L1141.61,824.81 L1140.25,819.57 L1138.84,814.34 L1137.40,809.12 L1135.92,803.92 L1134.40,798.73 L1132.84,793.55 L1131.24,788.38 L1129.61,783.22 L1127.93,778.08 L1126.21,772.96 L1124.46,767.85 L1122.67,762.75 L1120.83,757.66 L1118.96,752.60 L1117.06,747.54 L1115.11,742.51 L1113.12,737.48 L1111.10,732.48 L1109.04,727.49 L1106.94,722.52 L1104.81,717.57 L1102.63,712.63 L1100.42,707.71 L1098.17,702.81 L1095.89,697.93 L1093.57,693.06 L1091.21,688.22 L1088.81,683.40 L1086.38,678.59 L1083.91,673.80 L1081.41,669.04 L1078.87,664.29 L1076.29,659.57 L1073.68,654.87 L1071.03,650.19 L1068.35,645.53 L1065.63,640.89 L1062.87,636.27 L1060.09,631.68 L1057.26,627.11 L1054.40,622.57 L1051.51,618.04 L1048.59,613.54 L1045.63,609.07 L1042.63,604.61 L1039.60,600.19 L1036.54,595.79 L1033.45,591.41 L1030.32,587.06 L1027.16,582.73 L1023.97,578.43 L1020.74,574.15 L1017.48,569.91 L1014.19,565.69 L1010.87,561.49 L1007.52,557.32 L1004.13,553.18 L1000.72,549.07 L997.27,544.99 L993.79,540.93 L990.28,536.90 L986.74,532.91 L983.17,528.93 L979.57,524.99 L975.94,521.08 L972.28,517.20 L968.60,513.35 L964.88,509.53 L961.13,505.74 L957.36,501.98 L953.56,498.25 L949.72,494.55 L945.86,490.88 L941.98,487.24 L938.06,483.64 L934.12,480.07 L930.15,476.53 L926.16,473.02 L922.14,469.54 L918.09,466.10 L914.02,462.69 L909.92,459.32 L905.79,455.97 L901.64,452.66 L897.47,449.39 L893.27,446.15 L889.04,442.94 L884.79,439.77 L880.52,436.63 L876.22,433.53 L871.91,430.46 L867.56,427.43 L863.20,424.43 L858.81,421.47 L854.40,418.55 L849.97,415.66 L845.51,412.80 L841.04,409.99 L836.54,407.21 L832.02,404.46 L827.49,401.76 L822.93,399.09 L818.35,396.45 L813.75,393.86 L809.13,391.30 L804.49,388.78 L799.84,386.30 L795.16,383.85 L790.47,381.45 L785.76,379.08 L781.03,376.75 L776.28,374.46 L771.52,372.21 L766.74,369.99 L761.94,367.82 L757.12,365.68 L752.29,363.59 L747.45,361.53 L742.59,359.51 L737.71,357.54 L732.82,355.60 L727.92,353.70 L723.00,351.84 L718.06,350.02 L713.11,348.25 L708.15,346.51 L703.18,344.81 L698.19,343.15 L693.19,341.54 L688.18,339.96 L683.16,338.43 L678.13,336.94 L673.08,335.48 L668.02,334.07 L662.96,332.70 L657.88,331.37 L652.79,330.09 L647.70,328.84 L642.59,327.64 L637.48,326.47 L632.35,325.35 L627.22,324.27 L622.08,323.23 L616.93,322.24 L611.78,321.28 L606.62,320.37 L601.45,319.50 L596.27,318.68 L591.09,317.89 L585.91,317.15 L580.71,316.44 L575.52,315.79 L570.31,315.17 L565.11,314.60 L559.89,314.06 L554.68,313.57 L549.46,313.13 L544.24,312.72 L539.01,312.36 L533.79,312.04 L528.56,311.76 L523.33,311.53 L518.09,311.34 L512.86,311.19 L507.62,311.08 L502.39,311.02 L497.15,311.00 L491.91,311.02 L486.68,311.08 L481.44,311.19 L476.21,311.34 L470.97,311.53 L465.74,311.76 L460.51,312.04 L455.29,312.36 L450.06,312.72 L444.84,313.13 L439.62,313.57 L434.41,314.06 L429.19,314.60 L423.99,315.17 L418.78,315.79 L413.59,316.44 L408.39,317.15 L403.21,317.89 L398.03,318.68 L392.85,319.50 L387.68,320.37 L382.52,321.28 L377.37,322.24 L372.22,323.23 L367.08,324.27 L361.95,325.35 L356.82,326.47 L351.71,327.64 L346.60,328.84 L341.51,330.09 L336.42,331.37 L331.34,332.70 L326.28,334.07 L321.22,335.48 L316.17,336.94 L311.14,338.43 L306.12,339.96 L301.11,341.54 L296.11,343.15 L291.12,344.81 L286.15,346.51 L281.19,348.25 L276.24,350.02 L271.30,351.84 L266.38,353.70 L261.48,355.60 L256.59,357.54 L251.71,359.51 L246.85,361.53 L242.01,363.59 L237.18,365.68 L232.36,367.82 L227.56,369.99 L222.78,372.21 L218.02,374.46 L213.27,376.75 L208.54,379.08 L203.83,381.45 L199.14,383.85 L194.46,386.30 L189.81,388.78 L185.17,391.30 L180.55,393.86 L175.95,396.45 L171.37,399.09 L166.81,401.76 L162.28,404.46 L157.76,407.21 L153.26,409.99 L148.79,412.80 L144.33,415.66 L139.90,418.55 L135.49,421.47 L131.10,424.43 L126.74,427.43 L122.39,430.46 L118.08,433.53 L113.78,436.63 L109.51,439.77 L105.26,442.94 L101.03,446.15 L96.83,449.39 L92.66,452.66 L88.51,455.97 L84.38,459.32 L80.28,462.69 L76.21,466.10 L72.16,469.54 L68.14,473.02 L64.15,476.53 L60.18,480.07 L56.24,483.64 L52.32,487.24 L48.44,490.88 L44.58,494.55 L40.74,498.25 L36.94,501.98 L33.17,505.74 L29.42,509.53 L25.70,513.35 L22.02,517.20 L18.36,521.08 L14.73,524.99 L11.13,528.93 L7.56,532.91 L4.02,536.90 L0.51,540.93 L-2.97,544.99 L-6.42,549.07 L-9.83,553.18 L-13.22,557.32 L-16.57,561.49 L-19.89,565.69 L-23.18,569.91 L-26.44,574.15 L-29.67,578.43 L-32.86,582.73 L-36.02,587.06 L-39.15,591.41 L-42.24,595.79 L-45.30,600.19 L-48.33,604.61 L-51.33,609.07 L-54.29,613.54 L-57.21,618.04 L-60.10,622.57 L-62.96,627.11 L-65.79,631.68 L-68.57,636.27 L-71.33,640.89 L-74.05,645.53 L-76.73,650.19 L-79.38,654.87 L-81.99,659.57 L-84.57,664.29 L-87.11,669.04 L-89.61,673.80 L-92.08,678.59 L-94.51,683.40 L-96.91,688.22 L-99.27,693.06 L-101.59,697.93 L-103.87,702.81 L-106.12,707.71 L-108.33,712.63 L-110.51,717.57 L-112.64,722.52 L-114.74,727.49 L-116.80,732.48 L-118.82,737.48 L-120.81,742.51 L-122.76,747.54 L-124.66,752.60 L-126.53,757.66 L-128.37,762.75 L-130.16,767.85 L-131.91,772.96 L-133.63,778.08 L-135.31,783.22 L-136.94,788.38 L-138.54,793.55 L-140.10,798.73 L-141.62,803.92 L-143.10,809.12 L-144.54,814.34 L-145.95,819.57 L-147.31,824.81 L-148.63,830.06 L-149.91,835.32 L-151.15,840.59 L-152.36,845.87 L-153.52,851.16 L-154.64,856.46 L-155.72,861.77 L-156.76,867.09 L-157.77,872.41 L-158.73,877.75 L-159.65,883.09 L-160.53,888.44 L-161.37,893.79 L-162.17,899.16 L-162.92,904.53 L-163.64,909.90 L-164.32,915.28 L-164.95,920.67 L-165.55,926.06 L-166.10,931.45 L-166.62,936.85 L-167.09,942.26 L-167.52,947.66 L-167.91,953.08 L-168.26,958.49 L-168.57,963.91 L-168.84,969.33 L-169.06,974.75 L-169.25,980.17 L-169.39,985.59 L-169.49,991.02 L-169.56,996.44 L-169.58,1001.87 L-169.56,1007.30 L-169.49,1012.72 L-169.39,1018.15 L-169.25,1023.57 L-169.06,1028.99 L-168.84,1034.41 L-168.57,1039.83 L-168.26,1045.25 L-167.91,1050.66 L-167.52,1056.08 L-167.09,1061.48 L-166.62,1066.89 L-166.10,1072.29 L-165.55,1077.68 L-164.95,1083.07 L-164.32,1088.46 L-163.64,1093.84 L-162.92,1099.21 L-162.17,1104.58 L-161.37,1109.95 L-160.53,1115.30 L-159.65,1120.65 L-158.73,1125.99 L-157.77,1131.33 L-156.76,1136.65 L-155.72,1141.97 L-154.64,1147.28 L-153.52,1152.58 L-152.36,1157.87 L-151.15,1163.15 L-149.91,1168.42 L-148.63,1173.68 L-147.31,1178.93 L-145.95,1184.17 L-144.54,1189.40 L-143.10,1194.62 L-141.62,1199.82 L-140.10,1205.01 L-138.54,1210.19 L-136.94,1215.36 L-135.31,1220.52 L-133.63,1225.66 L-131.91,1230.78 L-130.16,1235.89 L-128.37,1240.99 L-126.53,1246.08 L-124.66,1251.14 L-122.76,1256.20 L-120.81,1261.23 L-118.82,1266.26 L-116.80,1271.26 L-114.74,1276.25 L-112.64,1281.22 L-110.51,1286.17 L-108.33,1291.11 L-106.12,1296.03 L-103.87,1300.93 L-101.59,1305.81 L-99.27,1310.68 L-96.91,1315.52 L-94.51,1320.34 L-92.08,1325.15 L-89.61,1329.94 L-87.11,1334.70 L-84.57,1339.45 L-81.99,1344.17 L-79.38,1348.87 L-76.73,1353.55 L-74.05,1358.21 L-71.33,1362.85 L-68.57,1367.47 L-65.79,1372.06 L-62.96,1376.63 L-60.10,1381.17 L-57.21,1385.70 L-54.29,1390.20 L-51.33,1394.67 L-48.33,1399.13 L-45.30,1403.55 L-42.24,1407.95 L-39.15,1412.33 L-36.02,1416.68 L-32.86,1421.01 L-29.67,1425.31 L-26.44,1429.59 L-23.18,1433.83 L-19.89,1438.05 L-16.57,1442.25 L-13.22,1446.42 L-9.83,1450.56 L-6.42,1454.67 L-2.97,1458.75 L0.51,1462.81 L4.02,1466.84 L7.56,1470.83 L11.13,1474.81 L14.73,1478.75 L18.36,1482.66 L22.02,1486.54 L25.70,1490.39 L29.42,1494.21 L33.17,1498.00 L36.94,1501.76 L40.74,1505.49 L44.58,1509.19 L48.44,1512.86 L52.32,1516.50 L56.24,1520.10 L60.18,1523.67 L64.15,1527.21 L68.14,1530.72 L72.16,1534.20 L76.21,1537.64 L80.28,1541.05 L84.38,1544.42 L88.51,1547.77 L92.66,1551.08 L96.83,1554.35 L101.03,1557.59 L105.26,1560.80 L109.51,1563.97 L113.78,1567.11 L118.08,1570.21 L122.39,1573.28 L126.74,1576.31 L131.10,1579.31 L135.49,1582.27 L139.90,1585.19 L144.33,1588.08 L148.79,1590.94 L153.26,1593.75 L157.76,1596.53 L162.28,1599.28 L166.81,1601.98 L171.37,1604.65 L175.95,1607.29 L180.55,1609.88 L185.17,1612.44 L189.81,1614.96 L194.46,1617.44 L199.14,1619.89 L203.83,1622.29 L208.54,1624.66 L213.27,1626.99 L218.02,1629.28 L222.78,1631.53 L227.56,1633.75 L232.36,1635.92 L237.18,1638.06 L242.01,1640.15 L246.85,1642.21 L251.71,1644.23 L256.59,1646.20 L261.48,1648.14 L266.38,1650.04 L271.30,1651.90 L276.24,1653.72 L281.19,1655.49 L286.15,1657.23 L291.12,1658.93 L296.11,1660.59 L301.11,1662.20 L306.12,1663.78 L311.14,1665.31 L316.17,1666.80 L321.22,1668.26 L326.28,1669.67 L331.34,1671.04 L336.42,1672.37 L341.51,1673.65 L346.60,1674.90 L351.71,1676.10 L356.82,1677.27 L361.95,1678.39 L367.08,1679.47 L372.22,1680.51 L377.37,1681.50 L382.52,1682.46 L387.68,1683.37 L392.85,1684.24 L398.03,1685.06 L403.21,1685.85 L408.39,1686.59 L413.59,1687.30 L418.78,1687.95 L423.99,1688.57 L429.19,1689.14 L434.41,1689.68 L439.62,1690.17 L444.84,1690.61 L450.06,1691.02 L455.29,1691.38 L460.51,1691.70 L465.74,1691.98 L470.97,1692.21 L476.21,1692.40 L481.44,1692.55 L486.68,1692.66 L491.91,1692.72 L497.15,1692.74 L502.39,1692.72 L507.62,1692.66 L512.86,1692.55 L518.09,1692.40 L523.33,1692.21 L528.56,1691.98 L533.79,1691.70 L539.01,1691.38 L544.24,1691.02 L549.46,1690.61 L554.68,1690.17 L559.89,1689.68 L565.11,1689.14 L570.31,1688.57 L575.52,1687.95 L580.71,1687.30 L585.91,1686.59 L591.09,1685.85 L596.27,1685.06 L601.45,1684.24 L606.62,1683.37 L611.78,1682.46 L616.93,1681.50 L622.08,1680.51 L627.22,1679.47 L632.35,1678.39 L637.48,1677.27 L642.59,1676.10 L647.70,1674.90 L652.79,1673.65 L657.88,1672.37 L662.96,1671.04 L668.02,1669.67 L673.08,1668.26 L678.13,1666.80 L683.16,1665.31 L688.18,1663.78 L693.19,1662.20 L698.19,1660.59 L703.18,1658.93 L708.15,1657.23 L713.11,1655.49 L718.06,1653.72 L723.00,1651.90 L727.92,1650.04 L732.82,1648.14 L737.71,1646.20 L742.59,1644.23 L747.45,1642.21 L752.29,1640.15 L757.12,1638.06 L761.94,1635.92 L766.74,1633.75 L771.52,1631.53 L776.28,1629.28 L781.03,1626.99 L785.76,1624.66 L790.47,1622.29 L795.16,1619.89 L799.84,1617.44 L804.49,1614.96 L809.13,1612.44 L813.75,1609.88 L818.35,1607.29 L822.93,1604.65 L827.49,1601.98 L832.02,1599.28 L836.54,1596.53 L841.04,1593.75 L845.51,1590.94 L849.97,1588.08 L854.40,1585.19 L858.81,1582.27 L863.20,1579.31 L867.56,1576.31 L871.91,1573.28 L876.22,1570.21 L880.52,1567.11 L884.79,1563.97 L889.04,1560.80 L893.27,1557.59 L897.47,1554.35 L901.64,1551.08 L905.79,1547.77 L909.92,1544.42 L914.02,1541.05 L918.09,1537.64 L922.14,1534.20 L926.16,1530.72 L930.15,1527.21 L934.12,1523.67 L938.06,1520.10 L941.98,1516.50 L945.86,1512.86 L949.72,1509.19 L953.56,1505.49 L957.36,1501.76 L961.13,1498.00 L964.88,1494.21 L968.60,1490.39 L972.28,1486.54 L975.94,1482.66 L979.57,1478.75 L983.17,1474.81 L986.74,1470.83 L990.28,1466.84 L993.79,1462.81 L997.27,1458.75 L1000.72,1454.67 L1004.13,1450.56 L1007.52,1446.42 L1010.87,1442.25 L1014.19,1438.05 L1017.48,1433.83 L1020.74,1429.59 L1023.97,1425.31 L1027.16,1421.01 L1030.32,1416.68 L1033.45,1412.33 L1036.54,1407.95 L1039.60,1403.55 L1042.63,1399.13 L1045.63,1394.67 L1048.59,1390.20 L1051.51,1385.70 L1054.40,1381.17 L1057.26,1376.63 L1060.09,1372.06 L1062.87,1367.47 L1065.63,1362.85 L1068.35,1358.21 L1071.03,1353.55 L1073.68,1348.87 L1076.29,1344.17 L1078.87,1339.45 L1081.41,1334.70 L1083.91,1329.94 L1086.38,1325.15 L1088.81,1320.34 L1091.21,1315.52 L1093.57,1310.68 L1095.89,1305.81 L1098.17,1300.93 L1100.42,1296.03 L1102.63,1291.11 L1104.81,1286.17 L1106.94,1281.22 L1109.04,1276.25 L1111.10,1271.26 L1113.12,1266.26 L1115.11,1261.23 L1117.06,1256.20 L1118.96,1251.14 L1120.83,1246.08 L1122.67,1240.99 L1124.46,1235.89 L1126.21,1230.78 L1127.93,1225.66 L1129.61,1220.52 L1131.24,1215.36 L1132.84,1210.19 L1134.40,1205.01 L1135.92,1199.82 L1137.40,1194.62 L1138.84,1189.40 L1140.25,1184.17 L1141.61,1178.93 L1142.93,1173.68 L1144.21,1168.42 L1145.45,1163.15 L1146.66,1157.87 L1147.82,1152.58 L1148.94,1147.28 L1150.02,1141.97 L1151.06,1136.65 L1152.07,1131.33 L1153.03,1125.99 L1153.95,1120.65 L1154.83,1115.30 L1155.67,1109.95 L1156.47,1104.58 L1157.22,1099.21 L1157.94,1093.84 L1158.62,1088.46 L1159.25,1083.07 L1159.85,1077.68 L1160.40,1072.29 L1160.92,1066.89 L1161.39,1061.48 L1161.82,1056.08 L1162.21,1050.66 L1162.56,1045.25 L1162.87,1039.83 L1163.14,1034.41 L1163.36,1028.99 L1163.55,1023.57 L1163.69,1018.15 L1163.79,1012.72 L1163.86,1007.30Z" fill="none" stroke="#7882c8" stroke-width="2.7"/>
<path d="M834.36,323.10 L834.30,317.66 L834.11,312.23 L833.78,306.80 L833.33,301.39 L832.75,295.98 L832.04,290.59 L831.20,285.23 L830.24,279.88 L829.15,274.56 L827.93,269.27 L826.59,264.02 L825.12,258.80 L823.53,253.62 L821.82,248.48 L819.98,243.38 L818.03,238.34 L815.95,233.34 L813.76,228.40 L811.45,223.52 L809.02,218.70 L806.49,213.94 L803.83,209.25 L801.07,204.63 L798.20,200.07 L795.22,195.60 L792.14,191.20 L788.95,186.88 L785.66,182.64 L782.27,178.49 L778.78,174.43 L775.20,170.46 L771.52,166.58 L767.76,162.79 L763.90,159.10 L759.96,155.52 L755.93,152.03 L751.82,148.65 L747.64,145.37 L743.37,142.20 L739.03,139.14 L734.62,136.20 L730.15,133.36 L725.60,130.64 L720.99,128.04 L716.33,125.56 L711.60,123.19 L706.82,120.95 L701.99,118.83 L697.11,116.84 L692.18,114.97 L687.21,113.22 L682.20,111.61 L677.15,110.12 L672.07,108.76 L666.96,107.53 L661.82,106.43 L656.66,105.47 L651.47,104.63 L646.27,103.93 L641.05,103.36 L635.82,102.93 L630.58,102.63 L625.34,102.46 L620.09,102.43 L614.84,102.53 L609.60,102.76 L604.36,103.13 L599.14,103.63 L593.93,104.27 L588.73,105.03 L583.56,105.93 L578.41,106.97 L573.28,108.13 L568.18,109.42 L563.12,110.85 L558.09,112.40 L553.10,114.08 L548.15,115.89 L543.25,117.82 L538.39,119.88 L533.58,122.06 L528.83,124.36 L524.13,126.78 L519.49,129.33 L514.92,131.99 L510.41,134.76 L505.96,137.65 L501.59,140.66 L497.29,143.77 L493.06,147.00 L488.91,150.33 L484.84,153.76 L480.86,157.30 L476.96,160.94 L473.15,164.67 L469.43,168.51 L465.80,172.43 L462.26,176.45 L458.82,180.56 L455.48,184.75 L452.24,189.03 L449.11,193.39 L446.08,197.83 L443.15,202.34 L440.33,206.93 L437.63,211.59 L435.03,216.31 L432.55,221.10 L430.18,225.95 L427.93,230.87 L425.79,235.83 L423.78,240.85 L421.88,245.92 L420.11,251.04 L418.46,256.20 L416.93,261.40 L415.52,266.64 L414.24,271.91 L413.09,277.22 L412.06,282.55 L411.16,287.91 L410.39,293.29 L409.74,298.68 L409.23,304.09 L408.84,309.51 L408.58,314.95 L408.45,320.38 L408.45,325.82 L408.58,331.25 L408.84,336.69 L409.23,342.11 L409.74,347.52 L410.39,352.91 L411.16,358.29 L412.06,363.65 L413.09,368.98 L414.24,374.29 L415.52,379.56 L416.93,384.80 L418.46,390.00 L420.11,395.16 L421.88,400.28 L423.78,405.35 L425.79,410.37 L427.93,415.33 L430.18,420.25 L432.55,425.10 L435.03,429.89 L437.63,434.61 L440.33,439.27 L443.15,443.86 L446.08,448.37 L449.11,452.81 L452.24,457.17 L455.48,461.45 L458.82,465.64 L462.26,469.75 L465.80,473.77 L469.43,477.69 L473.15,481.53 L476.96,485.26 L480.86,488.90 L484.84,492.44 L488.91,495.87 L493.06,499.20 L497.29,502.43 L501.59,505.54 L505.96,508.55 L510.41,511.44 L514.92,514.21 L519.49,516.87 L524.13,519.42 L528.83,521.84 L533.58,524.14 L538.39,526.32 L543.25,528.38 L548.15,530.31 L553.10,532.12 L558.09,533.80 L563.12,535.35 L568.18,536.78 L573.28,538.07 L578.41,539.23 L583.56,540.27 L588.73,541.17 L593.93,541.93 L599.14,542.57 L604.36,543.07 L609.60,543.44 L614.84,543.67 L620.09,543.77 L625.34,543.74 L630.58,543.57 L635.82,543.27 L641.05,542.84 L646.27,542.27 L651.47,541.57 L656.66,540.73 L661.82,539.77 L666.96,538.67 L672.07,537.44 L677.15,536.08 L682.20,534.59 L687.21,532.98 L692.18,531.23 L697.11,529.36 L701.99,527.37 L706.82,525.25 L711.60,523.01 L716.33,520.64 L720.99,518.16 L725.60,515.56 L730.15,512.84 L734.62,510.00 L739.03,507.06 L743.37,504.00 L747.64,500.83 L751.82,497.55 L755.93,494.17 L759.96,490.68 L763.90,487.10 L767.76,483.41 L771.52,479.62 L775.20,475.74 L778.78,471.77 L782.27,467.71 L785.66,463.56 L788.95,459.32 L792.14,455.00 L795.22,450.60 L798.20,446.13 L801.07,441.57 L803.83,436.95 L806.49,432.26 L809.02,427.50 L811.45,422.68 L813.76,417.80 L815.95,412.86 L818.03,407.86 L819.98,402.82 L821.82,397.72 L823.53,392.58 L825.12,387.40 L826.59,382.18 L827.93,376.93 L829.15,371.64 L830.24,366.32 L831.20,360.97 L832.04,355.61 L832.75,350.22 L833.33,344.81 L833.78,339.40 L834.11,333.97 L834.30,328.54ZM867.41,323.10 L867.36,317.67 L867.19,312.24 L866.91,306.82 L866.52,301.41 L866.02,296.00 L865.41,290.61 L864.69,285.23 L863.85,279.87 L862.91,274.53 L861.86,269.21 L860.69,263.92 L859.42,258.65 L858.04,253.41 L856.56,248.21 L854.97,243.03 L853.27,237.90 L851.46,232.80 L849.56,227.74 L847.54,222.73 L845.43,217.76 L843.21,212.84 L840.90,207.97 L838.48,203.15 L835.97,198.39 L833.36,193.68 L830.65,189.04 L827.84,184.45 L824.95,179.92 L821.96,175.46 L818.88,171.07 L815.71,166.75 L812.45,162.49 L809.11,158.31 L805.68,154.21 L802.17,150.18 L798.57,146.23 L794.90,142.36 L791.14,138.57 L787.31,134.87 L783.40,131.25 L779.42,127.72 L775.37,124.28 L771.25,120.92 L767.06,117.66 L762.81,114.49 L758.49,111.42 L754.11,108.44 L749.66,105.56 L745.16,102.78 L740.61,100.10 L736.00,97.52 L731.33,95.04 L726.62,92.67 L721.86,90.40 L717.06,88.23 L712.21,86.18 L707.32,84.23 L702.39,82.38 L697.42,80.65 L692.42,79.03 L687.39,77.52 L682.33,76.12 L677.24,74.83 L672.12,73.65 L666.98,72.59 L661.82,71.64 L656.65,70.81 L651.45,70.08 L646.25,69.48 L641.03,68.99 L635.80,68.61 L630.57,68.35 L625.33,68.21 L620.09,68.18 L614.85,68.27 L609.61,68.47 L604.38,68.79 L599.16,69.22 L593.95,69.77 L588.75,70.43 L583.56,71.21 L578.39,72.10 L573.24,73.11 L568.12,74.23 L563.01,75.46 L557.94,76.80 L552.89,78.26 L547.87,79.83 L542.89,81.50 L537.94,83.29 L533.03,85.19 L528.16,87.19 L523.34,89.30 L518.55,91.52 L513.82,93.84 L509.13,96.27 L504.49,98.80 L499.91,101.43 L495.38,104.16 L490.91,106.99 L486.50,109.92 L482.15,112.95 L477.86,116.07 L473.64,119.28 L469.48,122.59 L465.39,125.99 L461.38,129.47 L457.43,133.05 L453.56,136.71 L449.77,140.46 L446.06,144.29 L442.42,148.20 L438.87,152.19 L435.40,156.25 L432.01,160.40 L428.71,164.61 L425.49,168.90 L422.37,173.26 L419.34,177.69 L416.39,182.18 L413.54,186.73 L410.79,191.35 L408.13,196.03 L405.56,200.77 L403.10,205.56 L400.73,210.40 L398.47,215.30 L396.30,220.24 L394.24,225.23 L392.28,230.27 L390.42,235.34 L388.67,240.46 L387.02,245.62 L385.48,250.81 L384.05,256.03 L382.73,261.28 L381.51,266.56 L380.40,271.87 L379.41,277.20 L378.52,282.55 L377.74,287.92 L377.07,293.31 L376.51,298.70 L376.07,304.11 L375.73,309.53 L375.51,314.96 L375.40,320.39 L375.40,325.81 L375.51,331.24 L375.73,336.67 L376.07,342.09 L376.51,347.50 L377.07,352.89 L377.74,358.28 L378.52,363.65 L379.41,369.00 L380.40,374.33 L381.51,379.64 L382.73,384.92 L384.05,390.17 L385.48,395.39 L387.02,400.58 L388.67,405.74 L390.42,410.86 L392.28,415.93 L394.24,420.97 L396.30,425.96 L398.47,430.90 L400.73,435.80 L403.10,440.64 L405.56,445.43 L408.13,450.17 L410.79,454.85 L413.54,459.47 L416.39,464.02 L419.34,468.51 L422.37,472.94 L425.49,477.30 L428.71,481.59 L432.01,485.80 L435.40,489.95 L438.87,494.01 L442.42,498.00 L446.06,501.91 L449.77,505.74 L453.56,509.49 L457.43,513.15 L461.38,516.73 L465.39,520.21 L469.48,523.61 L473.64,526.92 L477.86,530.13 L482.15,533.25 L486.50,536.28 L490.91,539.21 L495.38,542.04 L499.91,544.77 L504.49,547.40 L509.13,549.93 L513.82,552.36 L518.55,554.68 L523.34,556.90 L528.16,559.01 L533.03,561.01 L537.94,562.91 L542.89,564.70 L547.87,566.37 L552.89,567.94 L557.94,569.40 L563.01,570.74 L568.12,571.97 L573.24,573.09 L578.39,574.10 L583.56,574.99 L588.75,575.77 L593.95,576.43 L599.16,576.98 L604.38,577.41 L609.61,577.73 L614.85,577.93 L620.09,578.02 L625.33,577.99 L630.57,577.85 L635.80,577.59 L641.03,577.21 L646.25,576.72 L651.45,576.12 L656.65,575.39 L661.82,574.56 L666.98,573.61 L672.12,572.55 L677.24,571.37 L682.33,570.08 L687.39,568.68 L692.42,567.17 L697.42,565.55 L702.39,563.82 L707.32,561.97 L712.21,560.02 L717.06,557.97 L721.86,555.80 L726.62,553.53 L731.33,551.16 L736.00,548.68 L740.61,546.10 L745.16,543.42 L749.66,540.64 L754.11,537.76 L758.49,534.78 L762.81,531.71 L767.06,528.54 L771.25,525.28 L775.37,521.92 L779.42,518.48 L783.40,514.95 L787.31,511.33 L791.14,507.63 L794.90,503.84 L798.57,499.97 L802.17,496.02 L805.68,491.99 L809.11,487.89 L812.45,483.71 L815.71,479.45 L818.88,475.13 L821.96,470.74 L824.95,466.28 L827.84,461.75 L830.65,457.16 L833.36,452.52 L835.97,447.81 L838.48,443.05 L840.90,438.23 L843.21,433.36 L845.43,428.44 L847.54,423.47 L849.56,418.46 L851.46,413.40 L853.27,408.30 L854.97,403.17 L856.56,397.99 L858.04,392.79 L859.42,387.55 L860.69,382.28 L861.86,376.99 L862.91,371.67 L863.85,366.33 L864.69,360.97 L865.41,355.59 L866.02,350.20 L866.52,344.79 L866.91,339.38 L867.19,333.96 L867.36,328.53Z" fill="none" stroke="#f3ab94" stroke-width="2.1"/>
<path d="M860.71,323.10 L860.65,317.66 L860.46,312.23 L860.16,306.80 L859.74,301.38 L859.20,295.97 L858.54,290.57 L857.76,285.19 L856.87,279.84 L855.85,274.50 L854.71,269.19 L853.46,263.91 L852.09,258.66 L850.61,253.44 L849.01,248.26 L847.30,243.12 L845.47,238.03 L843.53,232.97 L841.48,227.97 L839.32,223.01 L837.05,218.11 L834.68,213.26 L832.19,208.47 L829.60,203.74 L826.91,199.07 L824.12,194.47 L821.22,189.93 L818.22,185.47 L815.13,181.08 L811.94,176.76 L808.65,172.52 L805.27,168.36 L801.80,164.28 L798.24,160.28 L794.60,156.37 L790.86,152.55 L787.05,148.81 L783.15,145.17 L779.17,141.62 L775.12,138.17 L770.99,134.81 L766.79,131.56 L762.51,128.40 L758.17,125.35 L753.76,122.40 L749.29,119.55 L744.75,116.82 L740.16,114.19 L735.51,111.67 L730.80,109.26 L726.04,106.97 L721.24,104.78 L716.38,102.72 L711.48,100.77 L706.54,98.93 L701.56,97.22 L696.55,95.62 L691.49,94.14 L686.41,92.78 L681.30,91.55 L676.17,90.43 L671.01,89.44 L665.82,88.57 L660.63,87.83 L655.41,87.20 L650.19,86.71 L644.95,86.33 L639.71,86.08 L634.46,85.96 L629.21,85.96 L623.97,86.08 L618.72,86.33 L613.49,86.71 L608.26,87.20 L603.05,87.83 L597.85,88.57 L592.67,89.44 L587.51,90.43 L582.37,91.55 L577.26,92.78 L572.18,94.14 L567.13,95.62 L562.11,97.22 L557.13,98.93 L552.19,100.77 L547.29,102.72 L542.44,104.78 L537.63,106.97 L532.87,109.26 L528.17,111.67 L523.52,114.19 L518.92,116.82 L514.39,119.55 L509.91,122.40 L505.50,125.35 L501.16,128.40 L496.89,131.56 L492.68,134.81 L488.55,138.17 L484.50,141.62 L480.52,145.17 L476.63,148.81 L472.81,152.55 L469.08,156.37 L465.43,160.28 L461.87,164.28 L458.40,168.36 L455.02,172.52 L451.74,176.76 L448.55,181.08 L445.45,185.47 L442.46,189.93 L439.56,194.47 L436.76,199.07 L434.07,203.74 L431.48,208.47 L429.00,213.26 L426.62,218.11 L424.35,223.01 L422.19,227.97 L420.14,232.97 L418.20,238.03 L416.37,243.12 L414.66,248.26 L413.06,253.44 L411.58,258.66 L410.21,263.91 L408.96,269.19 L407.83,274.50 L406.81,279.84 L405.91,285.19 L405.13,290.57 L404.47,295.97 L403.93,301.38 L403.51,306.80 L403.21,312.23 L403.03,317.66 L402.97,323.10 L403.03,328.54 L403.21,333.97 L403.51,339.40 L403.93,344.82 L404.47,350.23 L405.13,355.63 L405.91,361.01 L406.81,366.36 L407.83,371.70 L408.96,377.01 L410.21,382.29 L411.58,387.54 L413.06,392.76 L414.66,397.94 L416.37,403.08 L418.20,408.17 L420.14,413.23 L422.19,418.23 L424.35,423.19 L426.62,428.09 L429.00,432.94 L431.48,437.73 L434.07,442.46 L436.76,447.13 L439.56,451.73 L442.46,456.27 L445.45,460.73 L448.55,465.12 L451.74,469.44 L455.02,473.68 L458.40,477.84 L461.87,481.92 L465.43,485.92 L469.08,489.83 L472.81,493.65 L476.63,497.39 L480.52,501.03 L484.50,504.58 L488.55,508.03 L492.68,511.39 L496.89,514.64 L501.16,517.80 L505.50,520.85 L509.91,523.80 L514.39,526.65 L518.92,529.38 L523.52,532.01 L528.17,534.53 L532.87,536.94 L537.63,539.23 L542.44,541.42 L547.29,543.48 L552.19,545.43 L557.13,547.27 L562.11,548.98 L567.13,550.58 L572.18,552.06 L577.26,553.42 L582.37,554.65 L587.51,555.77 L592.67,556.76 L597.85,557.63 L603.05,558.37 L608.26,559.00 L613.49,559.49 L618.72,559.87 L623.97,560.12 L629.21,560.24 L634.46,560.24 L639.71,560.12 L644.95,559.87 L650.19,559.49 L655.41,559.00 L660.63,558.37 L665.82,557.63 L671.01,556.76 L676.17,555.77 L681.30,554.65 L686.41,553.42 L691.49,552.06 L696.55,550.58 L701.56,548.98 L706.54,547.27 L711.48,545.43 L716.38,543.48 L721.24,541.42 L726.04,539.23 L730.80,536.94 L735.51,534.53 L740.16,532.01 L744.75,529.38 L749.29,526.65 L753.76,523.80 L758.17,520.85 L762.51,517.80 L766.79,514.64 L770.99,511.39 L775.12,508.03 L779.17,504.58 L783.15,501.03 L787.05,497.39 L790.86,493.65 L794.60,489.83 L798.24,485.92 L801.80,481.92 L805.27,477.84 L808.65,473.68 L811.94,469.44 L815.13,465.12 L818.22,460.73 L821.22,456.27 L824.12,451.73 L826.91,447.13 L829.60,442.46 L832.19,437.73 L834.68,432.94 L837.05,428.09 L839.32,423.19 L841.48,418.23 L843.53,413.23 L845.47,408.17 L847.30,403.08 L849.01,397.94 L850.61,392.76 L852.09,387.54 L853.46,382.29 L854.71,377.01 L855.85,371.70 L856.87,366.36 L857.76,361.01 L858.54,355.63 L859.20,350.23 L859.74,344.82 L860.16,339.40 L860.46,333.97 L860.65,328.54ZM871.89,323.10 L871.83,317.67 L871.66,312.25 L871.37,306.83 L870.97,301.42 L870.46,296.02 L869.83,290.63 L869.09,285.26 L868.24,279.91 L867.28,274.57 L866.20,269.26 L865.01,263.98 L863.71,258.72 L862.30,253.49 L860.78,248.30 L859.15,243.14 L857.41,238.02 L855.57,232.95 L853.62,227.91 L851.56,222.92 L849.40,217.98 L847.13,213.08 L844.76,208.24 L842.30,203.46 L839.73,198.73 L837.06,194.06 L834.29,189.45 L831.43,184.90 L828.48,180.43 L825.42,176.01 L822.28,171.67 L819.05,167.40 L815.73,163.21 L812.32,159.09 L808.82,155.05 L805.24,151.09 L801.58,147.21 L797.84,143.42 L794.01,139.71 L790.11,136.08 L786.14,132.55 L782.09,129.11 L777.97,125.76 L773.78,122.50 L769.52,119.34 L765.20,116.28 L760.82,113.31 L756.37,110.44 L751.86,107.68 L747.30,105.02 L742.68,102.46 L738.01,100.01 L733.29,97.66 L728.52,95.42 L723.70,93.29 L718.84,91.27 L713.94,89.36 L709.00,87.56 L704.02,85.87 L699.01,84.29 L693.97,82.83 L688.89,81.48 L683.79,80.25 L678.67,79.13 L673.52,78.13 L668.35,77.25 L663.17,76.48 L657.97,75.83 L652.76,75.30 L647.54,74.89 L642.31,74.59 L637.07,74.41 L631.84,74.36 L626.60,74.41 L621.37,74.59 L616.14,74.89 L610.92,75.30 L605.70,75.83 L600.50,76.48 L595.32,77.25 L590.15,78.13 L585.01,79.13 L579.88,80.25 L574.78,81.48 L569.71,82.83 L564.66,84.29 L559.65,85.87 L554.68,87.56 L549.73,89.36 L544.83,91.27 L539.97,93.29 L535.16,95.42 L530.39,97.66 L525.67,100.01 L520.99,102.46 L516.38,105.02 L511.81,107.68 L507.30,110.44 L502.86,113.31 L498.47,116.28 L494.15,119.34 L489.89,122.50 L485.70,125.76 L481.58,129.11 L477.54,132.55 L473.56,136.08 L469.66,139.71 L465.84,143.42 L462.10,147.21 L458.43,151.09 L454.85,155.05 L451.36,159.09 L447.95,163.21 L444.62,167.40 L441.39,171.67 L438.25,176.01 L435.20,180.43 L432.24,184.90 L429.38,189.45 L426.61,194.06 L423.95,198.73 L421.38,203.46 L418.91,208.24 L416.54,213.08 L414.28,217.98 L412.12,222.92 L410.06,227.91 L408.11,232.95 L406.26,238.02 L404.53,243.14 L402.90,248.30 L401.38,253.49 L399.97,258.72 L398.67,263.98 L397.48,269.26 L396.40,274.57 L395.43,279.91 L394.58,285.26 L393.84,290.63 L393.21,296.02 L392.70,301.42 L392.30,306.83 L392.01,312.25 L391.84,317.67 L391.79,323.10 L391.84,328.53 L392.01,333.95 L392.30,339.37 L392.70,344.78 L393.21,350.18 L393.84,355.57 L394.58,360.94 L395.43,366.29 L396.40,371.63 L397.48,376.94 L398.67,382.22 L399.97,387.48 L401.38,392.71 L402.90,397.90 L404.53,403.06 L406.26,408.18 L408.11,413.25 L410.06,418.29 L412.12,423.28 L414.28,428.22 L416.54,433.12 L418.91,437.96 L421.38,442.74 L423.95,447.47 L426.61,452.14 L429.38,456.75 L432.24,461.30 L435.20,465.77 L438.25,470.19 L441.39,474.53 L444.62,478.80 L447.95,482.99 L451.36,487.11 L454.85,491.15 L458.43,495.11 L462.10,498.99 L465.84,502.78 L469.66,506.49 L473.56,510.12 L477.54,513.65 L481.58,517.09 L485.70,520.44 L489.89,523.70 L494.15,526.86 L498.47,529.92 L502.86,532.89 L507.30,535.76 L511.81,538.52 L516.38,541.18 L520.99,543.74 L525.67,546.19 L530.39,548.54 L535.16,550.78 L539.97,552.91 L544.83,554.93 L549.73,556.84 L554.68,558.64 L559.65,560.33 L564.66,561.91 L569.71,563.37 L574.78,564.72 L579.88,565.95 L585.01,567.07 L590.15,568.07 L595.32,568.95 L600.50,569.72 L605.70,570.37 L610.92,570.90 L616.14,571.31 L621.37,571.61 L626.60,571.79 L631.84,571.85 L637.07,571.79 L642.31,571.61 L647.54,571.31 L652.76,570.90 L657.97,570.37 L663.17,569.72 L668.35,568.95 L673.52,568.07 L678.67,567.07 L683.79,565.95 L688.89,564.72 L693.97,563.37 L699.01,561.91 L704.02,560.33 L709.00,558.64 L713.94,556.84 L718.84,554.93 L723.70,552.91 L728.52,550.78 L733.29,548.54 L738.01,546.19 L742.68,543.74 L747.30,541.18 L751.86,538.52 L756.37,535.76 L760.82,532.89 L765.20,529.92 L769.52,526.86 L773.78,523.70 L777.97,520.44 L782.09,517.09 L786.14,513.65 L790.11,510.12 L794.01,506.49 L797.84,502.78 L801.58,498.99 L805.24,495.11 L808.82,491.15 L812.32,487.11 L815.73,482.99 L819.05,478.80 L822.28,474.53 L825.42,470.19 L828.48,465.77 L831.43,461.30 L834.29,456.75 L837.06,452.14 L839.73,447.47 L842.30,442.74 L844.76,437.96 L847.13,433.12 L849.40,428.22 L851.56,423.28 L853.62,418.29 L855.57,413.25 L857.41,408.18 L859.15,403.06 L860.78,397.90 L862.30,392.71 L863.71,387.48 L865.01,382.22 L866.20,376.94 L867.28,371.63 L868.24,366.29 L869.09,360.94 L869.83,355.57 L870.46,350.18 L870.97,344.78 L871.37,339.37 L871.66,333.95 L871.83,328.53Z" fill="none" stroke="#d8888f" stroke-width="2.1"/>
<path d="M172.38,683.60 L573.42,-37.40M247.08,683.60 L498.72,-37.40" fill="none" stroke="#6a48a6" stroke-width="2.1"/>
<path d="M458.14,323.10 L458.08,320.02 L457.93,316.94 L457.67,313.87 L457.31,310.81 L456.84,307.76 L456.27,304.74 L455.60,301.73 L454.83,298.76 L453.96,295.81 L453.00,292.89 L451.93,290.01 L450.77,287.18 L449.51,284.38 L448.16,281.64 L446.72,278.94 L445.18,276.30 L443.56,273.71 L441.86,271.19 L440.07,268.72 L438.19,266.33 L436.24,264.00 L434.21,261.75 L432.11,259.57 L429.93,257.46 L427.69,255.44 L425.38,253.50 L423.00,251.65 L420.56,249.88 L418.07,248.20 L415.52,246.61 L412.92,245.12 L410.26,243.72 L407.57,242.41 L404.83,241.21 L402.05,240.10 L399.24,239.10 L396.39,238.20 L393.52,237.40 L390.62,236.71 L387.70,236.12 L384.76,235.64 L381.81,235.26 L378.85,234.99 L375.87,234.83 L372.90,234.78 L369.93,234.83 L366.95,234.99 L363.99,235.26 L361.04,235.64 L358.10,236.12 L355.18,236.71 L352.28,237.40 L349.41,238.20 L346.56,239.10 L343.75,240.10 L340.97,241.21 L338.23,242.41 L335.54,243.72 L332.88,245.12 L330.28,246.61 L327.73,248.20 L325.24,249.88 L322.80,251.65 L320.42,253.50 L318.11,255.44 L315.87,257.46 L313.69,259.57 L311.59,261.75 L309.56,264.00 L307.61,266.33 L305.73,268.72 L303.94,271.19 L302.24,273.71 L300.62,276.30 L299.08,278.94 L297.64,281.64 L296.29,284.38 L295.03,287.18 L293.87,290.01 L292.80,292.89 L291.84,295.81 L290.97,298.76 L290.20,301.73 L289.53,304.74 L288.96,307.76 L288.49,310.81 L288.13,313.87 L287.87,316.94 L287.72,320.02 L287.66,323.10 L287.72,326.18 L287.87,329.26 L288.13,332.33 L288.49,335.39 L288.96,338.44 L289.53,341.46 L290.20,344.47 L290.97,347.44 L291.84,350.39 L292.80,353.31 L293.87,356.19 L295.03,359.02 L296.29,361.82 L297.64,364.56 L299.08,367.26 L300.62,369.90 L302.24,372.49 L303.94,375.01 L305.73,377.48 L307.61,379.87 L309.56,382.20 L311.59,384.45 L313.69,386.63 L315.87,388.74 L318.11,390.76 L320.42,392.70 L322.80,394.55 L325.24,396.32 L327.73,398.00 L330.28,399.59 L332.88,401.08 L335.54,402.48 L338.23,403.79 L340.97,404.99 L343.75,406.10 L346.56,407.10 L349.41,408.00 L352.28,408.80 L355.18,409.49 L358.10,410.08 L361.04,410.56 L363.99,410.94 L366.95,411.21 L369.93,411.37 L372.90,411.42 L375.87,411.37 L378.85,411.21 L381.81,410.94 L384.76,410.56 L387.70,410.08 L390.62,409.49 L393.52,408.80 L396.39,408.00 L399.24,407.10 L402.05,406.10 L404.83,404.99 L407.57,403.79 L410.26,402.48 L412.92,401.08 L415.52,399.59 L418.07,398.00 L420.56,396.32 L423.00,394.55 L425.38,392.70 L427.69,390.76 L429.93,388.74 L432.11,386.63 L434.21,384.45 L436.24,382.20 L438.19,379.87 L440.07,377.48 L441.86,375.01 L443.56,372.49 L445.18,369.90 L446.72,367.26 L448.16,364.56 L449.51,361.82 L450.77,359.02 L451.93,356.19 L453.00,353.31 L453.96,350.39 L454.83,347.44 L455.60,344.47 L456.27,341.46 L456.84,338.44 L457.31,335.39 L457.67,332.33 L457.93,329.26 L458.08,326.18ZM484.10,323.10 L484.04,319.08 L483.83,315.06 L483.49,311.06 L483.02,307.06 L482.41,303.09 L481.67,299.14 L480.80,295.22 L479.80,291.34 L478.66,287.49 L477.40,283.69 L476.01,279.93 L474.49,276.23 L472.85,272.59 L471.09,269.00 L469.21,265.48 L467.21,262.04 L465.09,258.66 L462.87,255.37 L460.53,252.16 L458.09,249.03 L455.54,246.00 L452.89,243.05 L450.15,240.21 L447.31,237.47 L444.38,234.83 L441.36,232.30 L438.26,229.88 L435.08,227.57 L431.83,225.38 L428.50,223.31 L425.11,221.36 L421.65,219.53 L418.13,217.83 L414.56,216.26 L410.93,214.82 L407.26,213.51 L403.55,212.33 L399.80,211.29 L396.02,210.39 L392.21,209.62 L388.38,208.99 L384.52,208.50 L380.66,208.15 L376.78,207.94 L372.90,207.87 L369.02,207.94 L365.14,208.15 L361.28,208.50 L357.42,208.99 L353.59,209.62 L349.78,210.39 L346.00,211.29 L342.25,212.33 L338.54,213.51 L334.87,214.82 L331.24,216.26 L327.67,217.83 L324.15,219.53 L320.69,221.36 L317.30,223.31 L313.97,225.38 L310.72,227.57 L307.54,229.88 L304.44,232.30 L301.42,234.83 L298.49,237.47 L295.65,240.21 L292.91,243.05 L290.26,246.00 L287.71,249.03 L285.27,252.16 L282.93,255.37 L280.71,258.66 L278.59,262.04 L276.59,265.48 L274.71,269.00 L272.95,272.59 L271.31,276.23 L269.79,279.93 L268.40,283.69 L267.14,287.49 L266.00,291.34 L265.00,295.22 L264.13,299.14 L263.39,303.09 L262.78,307.06 L262.31,311.06 L261.97,315.06 L261.76,319.08 L261.70,323.10 L261.76,327.12 L261.97,331.14 L262.31,335.14 L262.78,339.14 L263.39,343.11 L264.13,347.06 L265.00,350.98 L266.00,354.86 L267.14,358.71 L268.40,362.51 L269.79,366.27 L271.31,369.97 L272.95,373.61 L274.71,377.20 L276.59,380.72 L278.59,384.16 L280.71,387.54 L282.93,390.83 L285.27,394.04 L287.71,397.17 L290.26,400.20 L292.91,403.15 L295.65,405.99 L298.49,408.73 L301.42,411.37 L304.44,413.90 L307.54,416.32 L310.72,418.63 L313.97,420.82 L317.30,422.89 L320.69,424.84 L324.15,426.67 L327.67,428.37 L331.24,429.94 L334.87,431.38 L338.54,432.69 L342.25,433.87 L346.00,434.91 L349.78,435.81 L353.59,436.58 L357.42,437.21 L361.28,437.70 L365.14,438.05 L369.02,438.26 L372.90,438.33 L376.78,438.26 L380.66,438.05 L384.52,437.70 L388.38,437.21 L392.21,436.58 L396.02,435.81 L399.80,434.91 L403.55,433.87 L407.26,432.69 L410.93,431.38 L414.56,429.94 L418.13,428.37 L421.65,426.67 L425.11,424.84 L428.50,422.89 L431.83,420.82 L435.08,418.63 L438.26,416.32 L441.36,413.90 L444.38,411.37 L447.31,408.73 L450.15,405.99 L452.89,403.15 L455.54,400.20 L458.09,397.17 L460.53,394.04 L462.87,390.83 L465.09,387.54 L467.21,384.16 L469.21,380.72 L471.09,377.20 L472.85,373.61 L474.49,369.97 L476.01,366.27 L477.40,362.51 L478.66,358.71 L479.80,354.86 L480.80,350.98 L481.67,347.06 L482.41,343.11 L483.02,339.14 L483.49,335.14 L483.83,331.14 L484.04,327.12Z" fill="none" stroke="#f6a623" stroke-width="2.5"/>
<path d="M25.00,271.43 L29.85,271.06 L34.71,270.68 L39.56,270.29 L44.42,269.90 L49.27,269.50 L54.13,269.10 L58.98,268.69 L63.84,268.27 L68.69,267.85 L73.54,267.42 L78.40,266.99 L83.25,266.55 L88.11,266.10 L92.96,265.64 L97.82,265.18 L102.67,264.70 L107.53,264.23 L112.38,263.74 L117.23,263.24 L122.09,262.74 L126.94,262.23 L131.80,261.71 L136.65,261.18 L141.51,260.64 L146.36,260.09 L151.22,259.53 L156.07,258.97 L160.92,258.39 L165.78,257.80 L170.63,257.20 L175.49,256.59 L180.34,255.97 L185.20,255.33 L190.05,254.69 L194.91,254.03 L199.76,253.36 L204.62,252.67 L209.47,251.97 L214.32,251.26 L219.18,250.54 L224.03,249.79 L228.89,249.04 L233.74,248.27 L238.60,247.48 L243.45,246.67 L248.31,245.85 L253.16,245.01 L258.01,244.15 L262.87,243.27 L267.72,242.37 L272.58,241.46 L277.43,240.52 L282.29,239.55 L287.14,238.57 L292.00,237.56 L296.85,236.53 L301.70,235.48 L306.56,234.39 L311.41,233.28 L316.27,232.14 L321.12,230.98 L325.98,229.78 L330.83,228.55 L335.69,227.29 L340.54,225.99 L345.39,224.66 L350.25,223.29 L355.10,221.88 L359.96,220.43 L364.81,218.94 L369.67,217.41 L374.52,215.83 L379.38,214.20 L384.23,212.53 L389.08,210.80 L393.94,209.01 L398.79,207.17 L403.65,205.26 L408.50,203.30 L413.36,201.26 L418.21,199.16 L423.07,196.98 L427.92,194.73 L432.77,192.39 L437.63,189.96 L442.48,187.45 L447.34,184.83 L452.19,182.12 L457.05,179.29 L461.90,176.35 L466.76,173.29 L471.61,170.10 L476.46,166.76 L481.32,163.28 L486.17,159.64 L491.03,155.83 L495.88,151.84 L500.74,147.66 L505.59,143.26 L510.45,138.64 L515.30,133.77 L520.16,128.64 L525.01,123.23 L529.86,117.50 L534.72,111.44 L539.57,105.01 L544.43,98.17 L549.28,90.89 L554.14,83.13 L558.99,74.83 L563.85,65.93 L568.70,56.38 L573.55,46.08 L578.41,34.96 L583.26,22.91 L588.12,9.81 L592.97,-4.49 L597.83,-20.16 L602.68,-37.40M25.00,288.11 L30.10,287.84 L35.20,287.57 L40.30,287.29 L45.40,287.01 L50.50,286.73 L55.60,286.44 L60.70,286.15 L65.80,285.85 L70.91,285.54 L76.01,285.23 L81.11,284.92 L86.21,284.60 L91.31,284.28 L96.41,283.95 L101.51,283.61 L106.61,283.27 L111.71,282.93 L116.81,282.57 L121.91,282.21 L127.01,281.85 L132.11,281.48 L137.21,281.10 L142.31,280.71 L147.41,280.32 L152.51,279.92 L157.61,279.51 L162.72,279.09 L167.82,278.67 L172.92,278.24 L178.02,277.80 L183.12,277.35 L188.22,276.89 L193.32,276.42 L198.42,275.94 L203.52,275.45 L208.62,274.96 L213.72,274.45 L218.82,273.93 L223.92,273.40 L229.02,272.86 L234.12,272.31 L239.22,271.74 L244.32,271.16 L249.43,270.57 L254.53,269.97 L259.63,269.35 L264.73,268.71 L269.83,268.06 L274.93,267.40 L280.03,266.72 L285.13,266.02 L290.23,265.30 L295.33,264.57 L300.43,263.82 L305.53,263.05 L310.63,262.25 L315.73,261.44 L320.83,260.60 L325.93,259.75 L331.03,258.86 L336.14,257.96 L341.24,257.02 L346.34,256.06 L351.44,255.07 L356.54,254.05 L361.64,253.01 L366.74,251.92 L371.84,250.81 L376.94,249.66 L382.04,248.47 L387.14,247.24 L392.24,245.97 L397.34,244.66 L402.44,243.30 L407.54,241.90 L412.64,240.44 L417.74,238.93 L422.84,237.37 L427.95,235.74 L433.05,234.06 L438.15,232.31 L443.25,230.48 L448.35,228.58 L453.45,226.61 L458.55,224.54 L463.65,222.39 L468.75,220.14 L473.85,217.79 L478.95,215.33 L484.05,212.75 L489.15,210.05 L494.25,207.21 L499.35,204.22 L504.45,201.07 L509.55,197.76 L514.66,194.25 L519.76,190.55 L524.86,186.63 L529.96,182.47 L535.06,178.04 L540.16,173.33 L545.26,168.31 L550.36,162.93 L555.46,157.17 L560.56,150.97 L565.66,144.30 L570.76,137.09 L575.86,129.27 L580.96,120.77 L586.06,111.48 L591.16,101.30 L596.26,90.10 L601.36,77.70 L606.47,63.91 L611.57,48.47 L616.67,31.08 L621.77,11.34 L626.87,-11.26 L631.97,-37.40M608.76,683.60 L609.89,677.87 L611.03,672.33 L612.16,666.95 L613.29,661.74 L614.42,656.68 L615.55,651.77 L616.68,647.00 L617.82,642.37 L618.95,637.87 L620.08,633.50 L621.21,629.24 L622.34,625.10 L623.47,621.07 L624.61,617.15 L625.74,613.33 L626.87,609.61 L628.00,605.98 L629.13,602.44 L630.26,598.99 L631.40,595.62 L632.53,592.34 L633.66,589.13 L634.79,586.00 L635.92,582.94 L637.05,579.95 L638.19,577.03 L639.32,574.18 L640.45,571.39 L641.58,568.66 L642.71,565.99 L643.84,563.37 L644.98,560.82 L646.11,558.31 L647.24,555.86 L648.37,553.46 L649.50,551.11 L650.63,548.80 L651.77,546.55 L652.90,544.33 L654.03,542.16 L655.16,540.04 L656.29,537.95 L657.42,535.90 L658.56,533.89 L659.69,531.92 L660.82,529.99 L661.95,528.09 L663.08,526.22 L664.22,524.39 L665.35,522.60 L666.48,520.83 L667.61,519.09 L668.74,517.39 L669.87,515.71 L671.01,514.07 L672.14,512.45 L673.27,510.86 L674.40,509.29 L675.53,507.75 L676.66,506.24 L677.80,504.75 L678.93,503.28 L680.06,501.84 L681.19,500.42 L682.32,499.02 L683.45,497.65 L684.59,496.30 L685.72,494.96 L686.85,493.65 L687.98,492.36 L689.11,491.09 L690.24,489.83 L691.38,488.60 L692.51,487.38 L693.64,486.18 L694.77,485.00 L695.90,483.83 L697.03,482.68 L698.17,481.55 L699.30,480.43 L700.43,479.33 L701.56,478.25 L702.69,477.18 L703.82,476.12 L704.96,475.08 L706.09,474.05 L707.22,473.04 L708.35,472.04 L709.48,471.05 L710.61,470.08 L711.75,469.12 L712.88,468.17 L714.01,467.23 L715.14,466.31 L716.27,465.40 L717.40,464.50 L718.54,463.61 L719.67,462.73 L720.80,461.86M635.83,683.60 L636.69,680.60 L637.55,677.64 L638.41,674.74 L639.26,671.88 L640.12,669.07 L640.98,666.30 L641.84,663.58 L642.70,660.89 L643.56,658.26 L644.41,655.66 L645.27,653.10 L646.13,650.58 L646.99,648.10 L647.85,645.66 L648.70,643.25 L649.56,640.88 L650.42,638.54 L651.28,636.24 L652.14,633.97 L653.00,631.74 L653.85,629.53 L654.71,627.36 L655.57,625.22 L656.43,623.10 L657.29,621.02 L658.15,618.97 L659.00,616.94 L659.86,614.94 L660.72,612.97 L661.58,611.03 L662.44,609.11 L663.30,607.21 L664.15,605.34 L665.01,603.50 L665.87,601.68 L666.73,599.88 L667.59,598.11 L668.45,596.36 L669.30,594.63 L670.16,592.92 L671.02,591.23 L671.88,589.57 L672.74,587.92 L673.59,586.30 L674.45,584.69 L675.31,583.11 L676.17,581.54 L677.03,580.00 L677.89,578.47 L678.74,576.96 L679.60,575.46 L680.46,573.99 L681.32,572.53 L682.18,571.09 L683.04,569.66 L683.89,568.25 L684.75,566.86 L685.61,565.48 L686.47,564.12 L687.33,562.77 L688.19,561.44 L689.04,560.13 L689.90,558.82 L690.76,557.54 L691.62,556.26 L692.48,555.00 L693.34,553.76 L694.19,552.52 L695.05,551.30 L695.91,550.10 L696.77,548.90 L697.63,547.72 L698.48,546.55 L699.34,545.39 L700.20,544.25 L701.06,543.11 L701.92,541.99 L702.78,540.88 L703.63,539.78 L704.49,538.69 L705.35,537.61 L706.21,536.54 L707.07,535.49 L707.93,534.44 L708.78,533.41 L709.64,532.38 L710.50,531.36 L711.36,530.36 L712.22,529.36 L713.08,528.38 L713.93,527.40 L714.79,526.43 L715.65,525.47 L716.51,524.52 L717.37,523.58 L718.23,522.65 L719.08,521.72 L719.94,520.81 L720.80,519.90" fill="none" stroke="#c26ab8" stroke-width="2.5"/>
<path d="M25.00,56.93 L720.80,367.46M25.00,95.99 L720.80,360.95" fill="none" stroke="#4a904e" stroke-width="2.5"/>
<path d="M372.90,1.00V645.20M62.50,323.10H684.20" stroke="#231f20" stroke-width="2.5" fill="none"/>
<ellipse cx="412.8" cy="234.3" rx="6.3" ry="6.6" fill="none" stroke="#1a1a1a" stroke-width="1.7"/>
<ellipse cx="412.8" cy="234.3" rx="2.8" ry="2.8" fill="none" stroke="#1a1a1a" stroke-width="1.6"/>
</g>
<path d="M74.70,645.20v-8.8M62.50,632.10h9.3M99.55,645.20v-8.8M62.50,606.35h9.3M124.40,645.20v-17.9M62.50,580.60h19.5M149.25,645.20v-8.8M62.50,554.85h9.3M174.10,645.20v-8.8M62.50,529.10h9.3M198.95,645.20v-8.8M62.50,503.35h9.3M223.80,645.20v-8.8M62.50,477.60h9.3M248.65,645.20v-17.9M62.50,451.85h19.5M273.50,645.20v-8.8M62.50,426.10h9.3M298.35,645.20v-8.8M62.50,400.35h9.3M323.20,645.20v-8.8M62.50,374.60h9.3M348.05,645.20v-8.8M62.50,348.85h9.3M372.90,645.20v-17.9M62.50,323.10h19.5M397.75,645.20v-8.8M62.50,297.35h9.3M422.60,645.20v-8.8M62.50,271.60h9.3M447.45,645.20v-8.8M62.50,245.85h9.3M472.30,645.20v-8.8M62.50,220.10h9.3M497.15,645.20v-17.9M62.50,194.35h19.5M522.00,645.20v-8.8M62.50,168.60h9.3M546.85,645.20v-8.8M62.50,142.85h9.3M571.70,645.20v-8.8M62.50,117.10h9.3M596.55,645.20v-8.8M62.50,91.35h9.3M621.40,645.20v-17.9M62.50,65.60h19.5M646.25,645.20v-8.8M62.50,39.85h9.3M671.10,645.20v-8.8M62.50,14.10h9.3" stroke="#231f20" stroke-width="2.4" fill="none"/>
<rect x="62.50" y="1.00" width="621.70" height="644.20" fill="none" stroke="#231f20" stroke-width="2.6"/>
<path d="M55.95,56.20 L55.95,76.90 L51.80,76.90 L51.80,61.90 L47.20,62.70 L46.80,62.30 L46.80,59.70 L49.20,58.20 L50.90,56.40Z" fill="#231f20"/><text x="14.60" y="205.30" font-family="Liberation Sans, sans-serif" font-size="31" font-weight="bold" font-style="normal" text-anchor="start" fill="#231f20" >0.5</text><text x="41.10" y="334.90" font-family="Liberation Sans, sans-serif" font-size="31" font-weight="bold" font-style="normal" text-anchor="start" fill="#231f20" >0</text><text x="4.80" y="462.80" font-family="Liberation Sans, sans-serif" font-size="31" font-weight="bold" font-style="normal" text-anchor="start" fill="#231f20" >-0.5</text><rect x="35.30" y="583.20" width="8.40" height="4.40" fill="#231f20"/><path d="M55.85,573.00 L55.85,593.70 L51.70,593.70 L51.70,578.70 L47.10,579.50 L46.70,579.10 L46.70,576.50 L49.10,575.00 L50.80,573.20Z" fill="#231f20"/><rect x="112.60" y="663.60" width="8.40" height="4.40" fill="#231f20"/><path d="M133.55,653.40 L133.55,674.00 L129.40,674.00 L129.40,659.10 L124.80,659.90 L124.40,659.50 L124.40,656.90 L126.80,655.40 L128.50,653.60Z" fill="#231f20"/><text x="220.90" y="673.90" font-family="Liberation Sans, sans-serif" font-size="31" font-weight="bold" font-style="normal" text-anchor="start" fill="#231f20" >-0.5</text><text x="362.60" y="673.90" font-family="Liberation Sans, sans-serif" font-size="31" font-weight="bold" font-style="normal" text-anchor="start" fill="#231f20" >0</text><text x="474.60" y="673.90" font-family="Liberation Sans, sans-serif" font-size="31" font-weight="bold" font-style="normal" text-anchor="start" fill="#231f20" >0.5</text><path d="M625.05,652.70 L625.05,674.00 L620.90,674.00 L620.90,658.40 L616.30,659.20 L615.90,658.80 L615.90,656.20 L618.30,654.70 L620.00,652.90Z" fill="#231f20"/><rect x="660.30" y="685.20" width="22.80" height="2.20" fill="#231f20"/><text x="660.10" y="714.90" font-family="Liberation Serif, serif" font-size="49" font-weight="normal" font-style="normal" text-anchor="start" fill="#231f20" >ρ</text><rect x="0.00" y="1.20" width="2.00" height="23.60" fill="#231f20"/><path d="M38.3,1.4 L38.3,4.6 L13.5,5.9 C11,6.1 9.3,7.5 9.3,10.3 C9.3,12.5 10.6,14.3 12.3,15.6 L28.8,15.6 L28.8,19.6 L11,19.6 C9.5,19.6 8.8,20.5 9.1,21.6 C9.5,22.9 10.8,23.7 12.6,23.9 L12.6,24.8 C9.5,24.9 7,23.5 6.7,21 C6.5,19 7.3,17.2 8.6,16.3 C6.9,14.6 6,12.5 6,10 C6,5.2 9,2.6 13,2.4 Z" fill="#231f20"/><path d="M409.4,29.4 C409.4,26.6 410.6,24.4 412.2,24.4 C414.3,24.4 415.4,28.2 417.3,35.8" fill="none" stroke="#231f20" stroke-width="1.45"/><path d="M422.7,23.9 L424.4,24.5 L418.5,36.4 L416.7,36.0 Z" fill="#231f20"/><path d="M417.0,35.2 C415.9,38.2 415.2,41.3 415.3,43.4 C415.4,45.2 416.3,46.0 417.1,46.0 C418.1,46.0 418.8,45.0 418.8,43.3 C418.8,41.0 418.5,38.4 418.3,35.6 Z" fill="#231f20"/><text x="165.90" y="148.80" font-family="Liberation Serif, serif" font-size="24" font-weight="normal" font-style="normal" text-anchor="start" fill="#231f20" stroke="#231f20" stroke-width="0.5" >β</text><text x="565.10" y="458.50" font-family="Liberation Serif, serif" font-size="26" font-weight="normal" font-style="normal" text-anchor="start" fill="#231f20" stroke="#231f20" stroke-width="0.5" >α</text><text x="112.25" y="279.05" font-family="Liberation Serif, serif" font-size="23.5" font-weight="normal" font-style="normal" text-anchor="start" fill="#231f20" stroke="#231f20" stroke-width="0.6" >ε</text><text x="121.80" y="288.10" font-family="Liberation Sans, sans-serif" font-size="15.7" font-weight="bold" font-style="normal" text-anchor="start" fill="#231f20" stroke="#231f20" stroke-width="0.45" >K</text><text x="621.90" y="140.00" font-family="Liberation Serif, serif" font-size="22.8" font-weight="normal" font-style="normal" text-anchor="start" fill="#231f20" >Δ</text><text x="636.20" y="140.00" font-family="Liberation Sans, sans-serif" font-size="23" font-weight="bold" font-style="normal" text-anchor="start" fill="#231f20" >m</text><text x="656.40" y="145.75" font-family="Liberation Sans, sans-serif" font-size="15.2" font-weight="bold" font-style="normal" text-anchor="start" fill="#231f20" stroke="#231f20" stroke-width="0.4" >d</text><text x="422.10" y="152.50" font-family="Liberation Serif, serif" font-size="21.8" font-weight="normal" font-style="normal" text-anchor="start" fill="#231f20" >Δ</text><text x="435.40" y="152.50" font-family="Liberation Sans, sans-serif" font-size="22" font-weight="bold" font-style="normal" text-anchor="start" fill="#231f20" >m</text><text x="456.30" y="159.50" font-family="Liberation Sans, sans-serif" font-size="14.5" font-weight="bold" font-style="normal" text-anchor="start" fill="#231f20" stroke="#231f20" stroke-width="0.4" >d</text><rect x="422.60" y="162.80" width="43.30" height="2.30" fill="#231f20"/><text x="423.90" y="183.80" font-family="Liberation Serif, serif" font-size="21.8" font-weight="normal" font-style="normal" text-anchor="start" fill="#231f20" >Δ</text><text x="437.10" y="183.80" font-family="Liberation Sans, sans-serif" font-size="22" font-weight="bold" font-style="normal" text-anchor="start" fill="#231f20" >m</text><text x="457.60" y="189.00" font-family="Liberation Sans, sans-serif" font-size="14.5" font-weight="bold" font-style="normal" text-anchor="start" fill="#231f20" stroke="#231f20" stroke-width="0.4" >s</text><rect x="249.30" y="257.20" width="2.10" height="60.50" fill="#231f20"/><rect x="301.50" y="257.20" width="2.10" height="60.50" fill="#231f20"/><text x="258.00" y="274.80" font-family="Liberation Sans, sans-serif" font-size="23.5" font-weight="bold" font-style="normal" text-anchor="start" fill="#231f20" >V</text><text x="275.40" y="282.45" font-family="Liberation Sans, sans-serif" font-size="16" font-weight="bold" font-style="normal" text-anchor="start" fill="#231f20" stroke="#231f20" stroke-width="0.35" >ub</text><rect x="257.40" y="287.20" width="37.90" height="1.90" fill="#231f20"/><text x="259.20" y="308.90" font-family="Liberation Sans, sans-serif" font-size="23.5" font-weight="bold" font-style="normal" text-anchor="start" fill="#231f20" >V</text><text x="276.80" y="316.00" font-family="Liberation Sans, sans-serif" font-size="15.7" font-weight="bold" font-style="normal" text-anchor="start" fill="#231f20" stroke="#231f20" stroke-width="0.35" >cb</text><rect x="158.3" y="10.2" width="77.2" height="42.6" fill="#ffffff"/><path d="M161,50 L161,35 Q180,31 198,38 L198,50Z" fill="#f8f5e2" opacity="0.8"/><path d="M198,12 L233,12 L233,42 Q216,30 198,22Z" fill="#f1ecf4" opacity="0.8"/><path d="M161,41.6 L232,41.6" stroke="#d2d5ec" stroke-width="0.9"/><path d="M171.1,14 L171.1,50" stroke="#dadcf0" stroke-width="0.9"/><path d="M180,24 L188,26 L181,29Z" fill="#d0d4ee" opacity="0.8"/><path d="M213,13 Q224,28 231,46" stroke="#e2e2f0" stroke-width="1" fill="none"/><rect x="158.2" y="10.0" width="77.0" height="43.0" fill="none" stroke="#6a6eb0" stroke-width="2.0"/><path d="M235.3,9.0 V53.3 H157.2" fill="none" stroke="#262068" stroke-width="2.4"/><path d="M236.9,10.5 V54.8 H158.5" fill="none" stroke="#9a98b0" stroke-width="0.9" opacity="0.6"/><text transform="translate(161.3,36.4) scale(0.87,1)" font-family="Liberation Sans, sans-serif" font-weight="bold" font-size="32.7" fill="#2a2f7e">U</text><text transform="translate(182.8,36.2) scale(0.87,1)" font-family="Liberation Sans, sans-serif" font-weight="bold" font-size="32.7" fill="#2a2f7e">T</text><text transform="translate(197.4,43.7) skewX(-6)" font-family="Liberation Serif, serif" font-style="italic" font-size="31" fill="#e3202e" stroke="#e3202e" stroke-width="0.55">f</text><text transform="translate(206.4,43.7) skewX(-4) scale(1.12,1)" font-family="Liberation Serif, serif" font-style="italic" font-size="31" fill="#e3202e" stroke="#e3202e" stroke-width="0.55">i</text><text transform="translate(217.6,43.7) scale(1.25,1)" font-family="Liberation Serif, serif" font-style="italic" font-size="31" fill="#e3202e" stroke="#e3202e" stroke-width="0.55">t</text>
</svg>
</body></html>
